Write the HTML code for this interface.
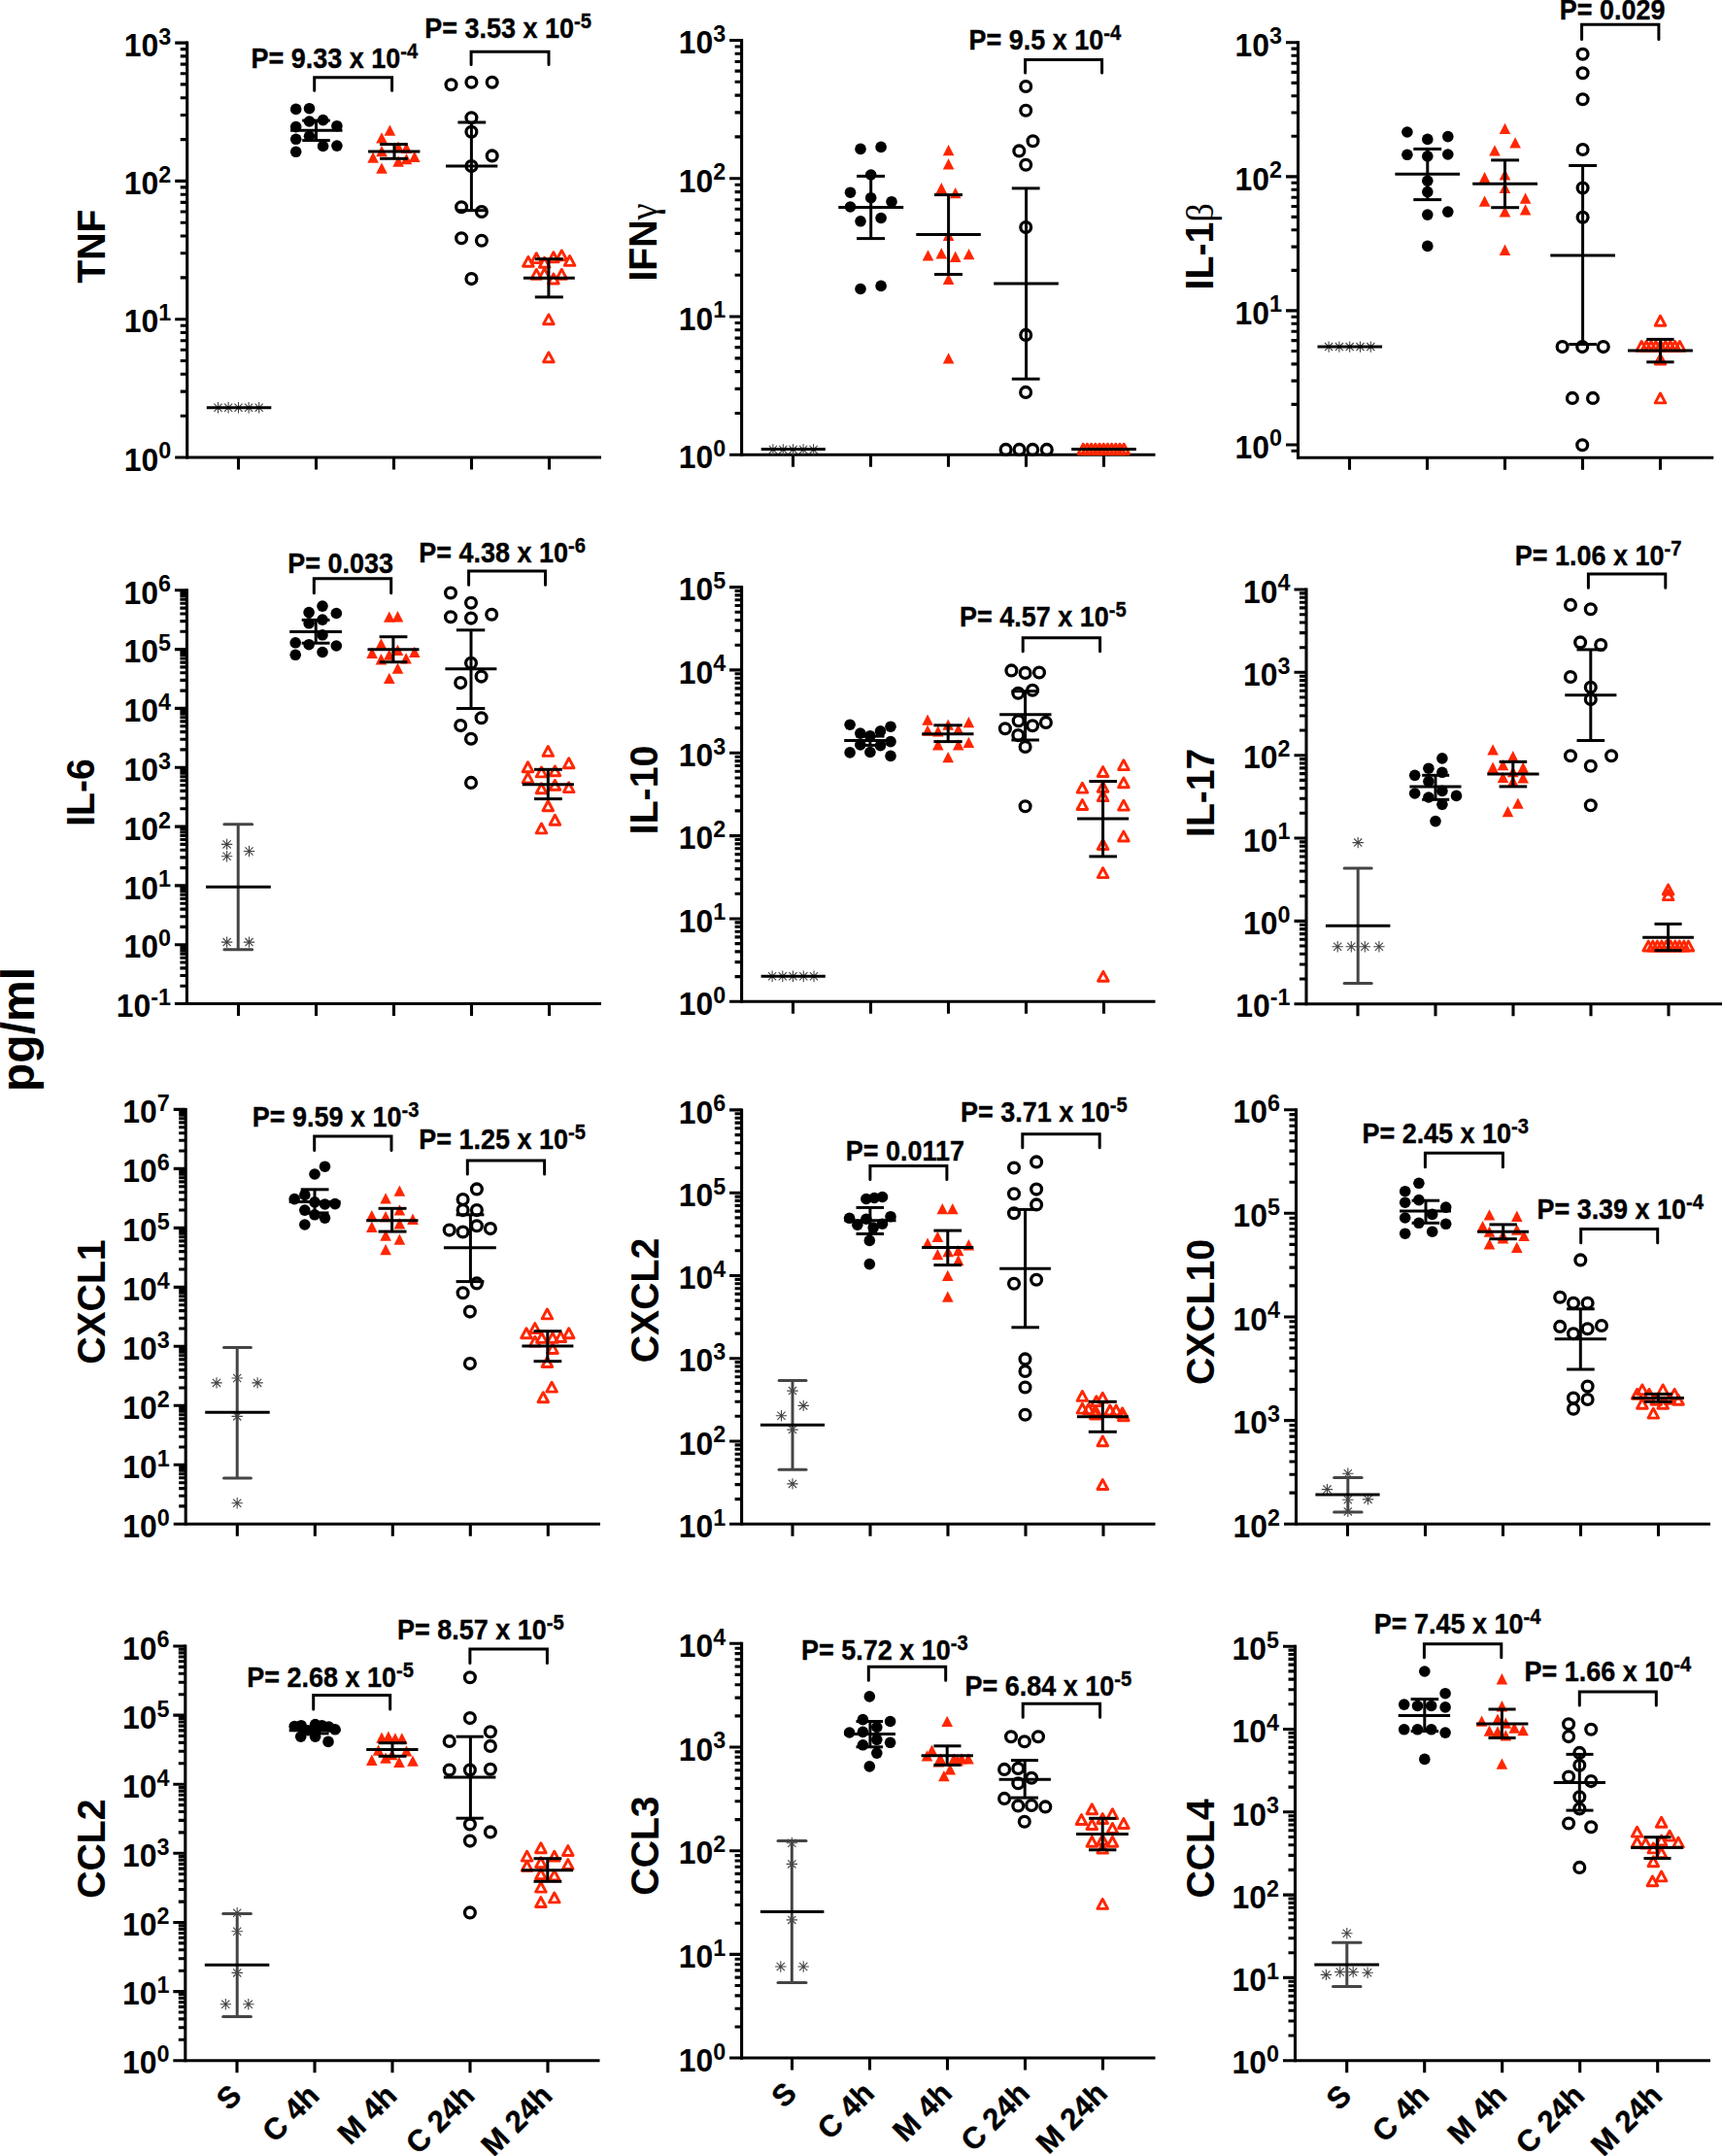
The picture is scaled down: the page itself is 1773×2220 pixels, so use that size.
<!DOCTYPE html>
<html><head><meta charset="utf-8"><title>Cytokines</title>
<style>
html,body{margin:0;padding:0;background:#fff}
svg{display:block}
text{font-family:"Liberation Sans",sans-serif;font-weight:bold;fill:#000}
.tk{font-size:33.6px}
.sp{font-size:24.6px}
.yl{font-size:40.6px}
.pg{font-size:48px}
.pv{font-size:28.7px;stroke:#000;stroke-width:0.35px}
.ps{font-size:21.5px}
.xl{font-size:31px;stroke:#000;stroke-width:0.4px}
.sym{font-family:"Liberation Serif","DejaVu Serif",serif;font-weight:normal;font-size:40px}
</style></head>
<body>
<svg width="1773" height="2220" viewBox="0 0 1773 2220">
<rect width="1773" height="2220" fill="#fff"/>
<g id="p-TNF">
<line x1="192.7" y1="42.6" x2="192.7" y2="472.6" stroke="#000" stroke-width="3.1"/>
<line x1="180.2" y1="471" x2="619" y2="471" stroke="#000" stroke-width="3.0"/>
<text transform="translate(176.3 57.8) scale(0.95 1)" text-anchor="end" class="tk">10<tspan class="sp" dy="-12.3">3</tspan></text>
<text transform="translate(176.3 200.1) scale(0.95 1)" text-anchor="end" class="tk">10<tspan class="sp" dy="-12.3">2</tspan></text>
<text transform="translate(176.3 342.4) scale(0.95 1)" text-anchor="end" class="tk">10<tspan class="sp" dy="-12.3">1</tspan></text>
<text transform="translate(176.3 484.7) scale(0.95 1)" text-anchor="end" class="tk">10<tspan class="sp" dy="-12.3">0</tspan></text>
<path d="M180.2 44.1H192.7M185.7 143.6H192.7M185.7 118.5H192.7M185.7 100.7H192.7M185.7 86.9H192.7M185.7 75.7H192.7M185.7 66.1H192.7M185.7 57.9H192.7M185.7 50.6H192.7M180.2 186.4H192.7M185.7 285.9H192.7M185.7 260.8H192.7M185.7 243H192.7M185.7 229.2H192.7M185.7 218H192.7M185.7 208.4H192.7M185.7 200.2H192.7M185.7 192.9H192.7M180.2 328.7H192.7M185.7 428.2H192.7M185.7 403.1H192.7M185.7 385.3H192.7M185.7 371.5H192.7M185.7 360.3H192.7M185.7 350.7H192.7M185.7 342.5H192.7M185.7 335.2H192.7" stroke="#000" stroke-width="3.1" fill="none"/>
<path d="M245.5 471V483.5M325.5 471V483.5M405.5 471V483.5M485.5 471V483.5M565.5 471V483.5" stroke="#000" stroke-width="3.1" fill="none"/>
<text transform="translate(107.8 253.7) rotate(-90) scale(0.965 1)" text-anchor="middle" class="yl">TNF</text>
<path d="M218.8 419.8H230.2M224.5 414.1V425.5M220.4 415.7L228.6 423.9M220.4 423.9L228.6 415.7" stroke="#454545" stroke-width="1.1" fill="none"/>
<path d="M229.4 419.8H240.8M235.1 414.1V425.5M231 415.7L239.2 423.9M231 423.9L239.2 415.7" stroke="#454545" stroke-width="1.1" fill="none"/>
<path d="M239.8 419.8H251.2M245.5 414.1V425.5M241.4 415.7L249.6 423.9M241.4 423.9L249.6 415.7" stroke="#454545" stroke-width="1.1" fill="none"/>
<path d="M250.4 419.8H261.8M256.1 414.1V425.5M252 415.7L260.2 423.9M252 423.9L260.2 415.7" stroke="#454545" stroke-width="1.1" fill="none"/>
<path d="M261 419.8H272.4M266.7 414.1V425.5M262.6 415.7L270.8 423.9M262.6 423.9L270.8 415.7" stroke="#454545" stroke-width="1.1" fill="none"/>
<line x1="212.8" y1="419.8" x2="279.3" y2="419.8" stroke="#000" stroke-width="3.0"/>
<circle cx="304.7" cy="112.4" r="5.8"/>
<circle cx="318.5" cy="111.7" r="5.8"/>
<circle cx="318.5" cy="125" r="5.8"/>
<circle cx="332.6" cy="123.6" r="5.8"/>
<circle cx="304.7" cy="130.6" r="5.8"/>
<circle cx="346.9" cy="129.7" r="5.8"/>
<circle cx="304.7" cy="143.3" r="5.8"/>
<circle cx="318.5" cy="140.3" r="5.8"/>
<circle cx="332.6" cy="150.5" r="5.8"/>
<circle cx="346.9" cy="150.1" r="5.8"/>
<circle cx="304.7" cy="156.3" r="5.8"/>
<line x1="325.5" y1="124.1" x2="325.5" y2="144.6" stroke="#000" stroke-width="3.0"/>
<line x1="311.2" y1="124.1" x2="339.8" y2="124.1" stroke="#000" stroke-width="3.0"/>
<line x1="311.2" y1="144.6" x2="339.8" y2="144.6" stroke="#000" stroke-width="3.0"/>
<line x1="299.1" y1="134.3" x2="352.5" y2="134.3" stroke="#000" stroke-width="3.0"/>
<polygon points="401.4,128.5 407.2,139.8 395.6,139.8" fill="#ff2600"/>
<polygon points="393,136.2 398.8,147.5 387.2,147.5" fill="#ff2600"/>
<polygon points="393,149.9 398.8,161.2 387.2,161.2" fill="#ff2600"/>
<polygon points="384.1,156.4 389.9,167.7 378.3,167.7" fill="#ff2600"/>
<polygon points="393,167.4 398.8,178.7 387.2,178.7" fill="#ff2600"/>
<polygon points="410.1,160.5 415.9,171.8 404.3,171.8" fill="#ff2600"/>
<polygon points="418.5,157.9 424.3,169.2 412.7,169.2" fill="#ff2600"/>
<polygon points="426.8,155.7 432.6,167 421,167" fill="#ff2600"/>
<polygon points="418.5,146.6 424.3,157.9 412.7,157.9" fill="#ff2600"/>
<polygon points="410.1,145.6 415.9,156.9 404.3,156.9" fill="#ff2600"/>
<line x1="406" y1="148.6" x2="406" y2="163.3" stroke="#000" stroke-width="3.0"/>
<line x1="391.1" y1="148.6" x2="419.8" y2="148.6" stroke="#000" stroke-width="3.0"/>
<line x1="391.1" y1="163.3" x2="419.8" y2="163.3" stroke="#000" stroke-width="3.0"/>
<line x1="379.1" y1="156.1" x2="432.4" y2="156.1" stroke="#000" stroke-width="3.0"/>
<circle cx="464.5" cy="87.3" r="5.4" fill="none" stroke="#000" stroke-width="3.3"/>
<circle cx="485.4" cy="84.7" r="5.4" fill="none" stroke="#000" stroke-width="3.3"/>
<circle cx="506.7" cy="84.7" r="5.4" fill="none" stroke="#000" stroke-width="3.3"/>
<circle cx="485.4" cy="121.3" r="5.4" fill="none" stroke="#000" stroke-width="3.3"/>
<circle cx="485.4" cy="135.8" r="5.4" fill="none" stroke="#000" stroke-width="3.3"/>
<circle cx="506.7" cy="160.4" r="5.4" fill="none" stroke="#000" stroke-width="3.3"/>
<circle cx="485.4" cy="171.1" r="5.4" fill="none" stroke="#000" stroke-width="3.3"/>
<circle cx="475.1" cy="213.3" r="5.4" fill="none" stroke="#000" stroke-width="3.3"/>
<circle cx="495.9" cy="218" r="5.4" fill="none" stroke="#000" stroke-width="3.3"/>
<circle cx="475.1" cy="245.3" r="5.4" fill="none" stroke="#000" stroke-width="3.3"/>
<circle cx="495.9" cy="247.7" r="5.4" fill="none" stroke="#000" stroke-width="3.3"/>
<circle cx="485.4" cy="287.1" r="5.4" fill="none" stroke="#000" stroke-width="3.3"/>
<line x1="485.4" y1="126" x2="485.4" y2="216.7" stroke="#000" stroke-width="3.0"/>
<line x1="471.4" y1="126" x2="500.2" y2="126" stroke="#000" stroke-width="3.0"/>
<line x1="471.4" y1="216.7" x2="500.2" y2="216.7" stroke="#000" stroke-width="3.0"/>
<line x1="459" y1="171.1" x2="512.3" y2="171.1" stroke="#000" stroke-width="3.0"/>
<polygon points="543.9,264.4 549.2,274.3 538.6,274.3" fill="none" stroke="#ff2600" stroke-width="2.9" stroke-linejoin="round"/>
<polygon points="552.3,260.7 557.6,270.6 547,270.6" fill="none" stroke="#ff2600" stroke-width="2.9" stroke-linejoin="round"/>
<polygon points="569.9,259.8 575.2,269.7 564.6,269.7" fill="none" stroke="#ff2600" stroke-width="2.9" stroke-linejoin="round"/>
<polygon points="578.3,257.9 583.6,267.8 573,267.8" fill="none" stroke="#ff2600" stroke-width="2.9" stroke-linejoin="round"/>
<polygon points="586.6,263.5 591.9,273.4 581.3,273.4" fill="none" stroke="#ff2600" stroke-width="2.9" stroke-linejoin="round"/>
<polygon points="560.6,265.3 565.9,275.2 555.3,275.2" fill="none" stroke="#ff2600" stroke-width="2.9" stroke-linejoin="round"/>
<polygon points="552.3,277.4 557.6,287.3 547,287.3" fill="none" stroke="#ff2600" stroke-width="2.9" stroke-linejoin="round"/>
<polygon points="560.6,276.5 565.9,286.4 555.3,286.4" fill="none" stroke="#ff2600" stroke-width="2.9" stroke-linejoin="round"/>
<polygon points="569.9,282.1 575.2,292 564.6,292" fill="none" stroke="#ff2600" stroke-width="2.9" stroke-linejoin="round"/>
<polygon points="578.3,277.4 583.6,287.3 573,287.3" fill="none" stroke="#ff2600" stroke-width="2.9" stroke-linejoin="round"/>
<polygon points="564.9,323.9 570.2,333.8 559.6,333.8" fill="none" stroke="#ff2600" stroke-width="2.9" stroke-linejoin="round"/>
<polygon points="564.9,362.9 570.2,372.8 559.6,372.8" fill="none" stroke="#ff2600" stroke-width="2.9" stroke-linejoin="round"/>
<line x1="564.9" y1="266.7" x2="564.9" y2="305.9" stroke="#000" stroke-width="3.0"/>
<line x1="550.8" y1="266.7" x2="579.8" y2="266.7" stroke="#000" stroke-width="3.0"/>
<line x1="550.8" y1="305.9" x2="579.8" y2="305.9" stroke="#000" stroke-width="3.0"/>
<line x1="538.9" y1="286.2" x2="591.8" y2="286.2" stroke="#000" stroke-width="3.0"/>
<path d="M323.7 93.3V79.8H403.6V93.3" stroke="#000" stroke-width="3" fill="none" stroke-linecap="round" stroke-linejoin="miter"/>
<path d="M485.1 66.5V53.2H565V66.5" stroke="#000" stroke-width="3" fill="none" stroke-linecap="round" stroke-linejoin="miter"/>
<text transform="translate(258.5 70.2) scale(0.94 1)" class="pv">P= 9.33 x 10<tspan class="ps" dy="-10">-4</tspan></text>
<text transform="translate(437.2 38.8) scale(0.94 1)" class="pv">P= 3.53 x 10<tspan class="ps" dy="-10">-5</tspan></text>
</g>
<g id="p-IFN">
<line x1="763.6" y1="40" x2="763.6" y2="469.9" stroke="#000" stroke-width="3.1"/>
<line x1="751.1" y1="468.3" x2="1189.5" y2="468.3" stroke="#000" stroke-width="3.0"/>
<text transform="translate(747.2 55.2) scale(0.95 1)" text-anchor="end" class="tk">10<tspan class="sp" dy="-12.3">3</tspan></text>
<text transform="translate(747.2 197.5) scale(0.95 1)" text-anchor="end" class="tk">10<tspan class="sp" dy="-12.3">2</tspan></text>
<text transform="translate(747.2 339.7) scale(0.95 1)" text-anchor="end" class="tk">10<tspan class="sp" dy="-12.3">1</tspan></text>
<text transform="translate(747.2 482) scale(0.95 1)" text-anchor="end" class="tk">10<tspan class="sp" dy="-12.3">0</tspan></text>
<path d="M751.1 41.5H763.6M756.6 140.9H763.6M756.6 115.9H763.6M756.6 98.1H763.6M756.6 84.3H763.6M756.6 73.1H763.6M756.6 63.5H763.6M756.6 55.3H763.6M756.6 48H763.6M751.1 183.8H763.6M756.6 283.2H763.6M756.6 258.2H763.6M756.6 240.4H763.6M756.6 226.6H763.6M756.6 215.3H763.6M756.6 205.8H763.6M756.6 197.6H763.6M756.6 190.3H763.6M751.1 326H763.6M756.6 425.5H763.6M756.6 400.4H763.6M756.6 382.6H763.6M756.6 368.9H763.6M756.6 357.6H763.6M756.6 348.1H763.6M756.6 339.8H763.6M756.6 332.5H763.6" stroke="#000" stroke-width="3.1" fill="none"/>
<path d="M816.5 468.3V480.8M896.5 468.3V480.8M976.5 468.3V480.8M1056.5 468.3V480.8M1136.5 468.3V480.8" stroke="#000" stroke-width="3.1" fill="none"/>
<text transform="translate(675.9 289.6) rotate(-90) scale(0.965 1)" text-anchor="start" class="yl">IFN<tspan class="sym">γ</tspan></text>
<path d="M790.2 462.9H801.6M795.9 457.2V468.6M791.8 458.8L800 467M791.8 467L800 458.8" stroke="#454545" stroke-width="1.1" fill="none"/>
<path d="M800.6 462.9H812M806.3 457.2V468.6M802.2 458.8L810.4 467M802.2 467L810.4 458.8" stroke="#454545" stroke-width="1.1" fill="none"/>
<path d="M810.9 462.9H822.3M816.6 457.2V468.6M812.5 458.8L820.7 467M812.5 467L820.7 458.8" stroke="#454545" stroke-width="1.1" fill="none"/>
<path d="M821.4 462.9H832.8M827.1 457.2V468.6M823 458.8L831.2 467M823 467L831.2 458.8" stroke="#454545" stroke-width="1.1" fill="none"/>
<path d="M831.9 462.9H843.3M837.6 457.2V468.6M833.5 458.8L841.7 467M833.5 467L841.7 458.8" stroke="#454545" stroke-width="1.1" fill="none"/>
<line x1="783.7" y1="462.4" x2="849.8" y2="462.4" stroke="#000" stroke-width="3.0"/>
<circle cx="886" cy="153.4" r="5.8"/>
<circle cx="907.1" cy="151.4" r="5.8"/>
<circle cx="896.7" cy="180" r="5.8"/>
<circle cx="875.5" cy="198.2" r="5.8"/>
<circle cx="896.7" cy="203.7" r="5.8"/>
<circle cx="918" cy="207.7" r="5.8"/>
<circle cx="875.5" cy="213" r="5.8"/>
<circle cx="886" cy="227.8" r="5.8"/>
<circle cx="907.1" cy="224.5" r="5.8"/>
<circle cx="886" cy="297.5" r="5.8"/>
<circle cx="907.1" cy="294.4" r="5.8"/>
<line x1="896.7" y1="181.4" x2="896.7" y2="245.6" stroke="#000" stroke-width="3.0"/>
<line x1="882.1" y1="181.4" x2="911.1" y2="181.4" stroke="#000" stroke-width="3.0"/>
<line x1="882.1" y1="245.6" x2="911.1" y2="245.6" stroke="#000" stroke-width="3.0"/>
<line x1="863.3" y1="213.6" x2="930.2" y2="213.6" stroke="#000" stroke-width="3.0"/>
<polygon points="976.6,149 982.4,160.3 970.8,160.3" fill="#ff2600"/>
<polygon points="976.6,163.2 982.4,174.5 970.8,174.5" fill="#ff2600"/>
<polygon points="969.3,188.1 975.1,199.4 963.5,199.4" fill="#ff2600"/>
<polygon points="983.7,193 989.5,204.3 977.9,204.3" fill="#ff2600"/>
<polygon points="976.6,236.8 982.4,248.1 970.8,248.1" fill="#ff2600"/>
<polygon points="955.5,257.2 961.3,268.5 949.7,268.5" fill="#ff2600"/>
<polygon points="969.3,255.2 975.1,266.5 963.5,266.5" fill="#ff2600"/>
<polygon points="983.7,258.6 989.5,269.9 977.9,269.9" fill="#ff2600"/>
<polygon points="997.6,256 1003.4,267.3 991.8,267.3" fill="#ff2600"/>
<polygon points="976.6,281.7 982.4,293 970.8,293" fill="#ff2600"/>
<polygon points="976.6,363.2 982.4,374.5 970.8,374.5" fill="#ff2600"/>
<line x1="976.6" y1="200.6" x2="976.6" y2="282.5" stroke="#000" stroke-width="3.0"/>
<line x1="962" y1="200.6" x2="991" y2="200.6" stroke="#000" stroke-width="3.0"/>
<line x1="962" y1="282.5" x2="991" y2="282.5" stroke="#000" stroke-width="3.0"/>
<line x1="943.3" y1="241.6" x2="1009.8" y2="241.6" stroke="#000" stroke-width="3.0"/>
<circle cx="1056.2" cy="89" r="5.4" fill="none" stroke="#000" stroke-width="3.3"/>
<circle cx="1056.2" cy="113.7" r="5.4" fill="none" stroke="#000" stroke-width="3.3"/>
<circle cx="1063.5" cy="145.3" r="5.4" fill="none" stroke="#000" stroke-width="3.3"/>
<circle cx="1049.3" cy="155.4" r="5.4" fill="none" stroke="#000" stroke-width="3.3"/>
<circle cx="1056.2" cy="169.8" r="5.4" fill="none" stroke="#000" stroke-width="3.3"/>
<circle cx="1056.2" cy="234.1" r="5.4" fill="none" stroke="#000" stroke-width="3.3"/>
<circle cx="1056.2" cy="344.9" r="5.4" fill="none" stroke="#000" stroke-width="3.3"/>
<circle cx="1056.1" cy="403.9" r="5.4" fill="none" stroke="#000" stroke-width="3.3"/>
<circle cx="1035.6" cy="462.9" r="5.4" fill="none" stroke="#000" stroke-width="3.3"/>
<circle cx="1049.5" cy="462.9" r="5.4" fill="none" stroke="#000" stroke-width="3.3"/>
<circle cx="1063.2" cy="462.9" r="5.4" fill="none" stroke="#000" stroke-width="3.3"/>
<circle cx="1077.8" cy="462.9" r="5.4" fill="none" stroke="#000" stroke-width="3.3"/>
<line x1="1056.6" y1="193.9" x2="1056.6" y2="390.2" stroke="#000" stroke-width="3.0"/>
<line x1="1041.8" y1="193.9" x2="1070.6" y2="193.9" stroke="#000" stroke-width="3.0"/>
<line x1="1041.8" y1="390.2" x2="1070.6" y2="390.2" stroke="#000" stroke-width="3.0"/>
<line x1="1023.2" y1="292" x2="1089.8" y2="292" stroke="#000" stroke-width="3.0"/>
<polygon points="1115.3,457.3 1120.6,467.2 1110,467.2" fill="none" stroke="#ff2600" stroke-width="2.9" stroke-linejoin="round"/>
<polygon points="1119.5,457.3 1124.8,467.2 1114.2,467.2" fill="none" stroke="#ff2600" stroke-width="2.9" stroke-linejoin="round"/>
<polygon points="1123.7,457.3 1129,467.2 1118.4,467.2" fill="none" stroke="#ff2600" stroke-width="2.9" stroke-linejoin="round"/>
<polygon points="1127.9,457.3 1133.2,467.2 1122.6,467.2" fill="none" stroke="#ff2600" stroke-width="2.9" stroke-linejoin="round"/>
<polygon points="1132.1,457.3 1137.4,467.2 1126.8,467.2" fill="none" stroke="#ff2600" stroke-width="2.9" stroke-linejoin="round"/>
<polygon points="1136.2,457.3 1141.5,467.2 1131,467.2" fill="none" stroke="#ff2600" stroke-width="2.9" stroke-linejoin="round"/>
<polygon points="1140.4,457.3 1145.7,467.2 1135.1,467.2" fill="none" stroke="#ff2600" stroke-width="2.9" stroke-linejoin="round"/>
<polygon points="1144.6,457.3 1149.9,467.2 1139.3,467.2" fill="none" stroke="#ff2600" stroke-width="2.9" stroke-linejoin="round"/>
<polygon points="1148.8,457.3 1154.1,467.2 1143.5,467.2" fill="none" stroke="#ff2600" stroke-width="2.9" stroke-linejoin="round"/>
<polygon points="1153,457.3 1158.3,467.2 1147.7,467.2" fill="none" stroke="#ff2600" stroke-width="2.9" stroke-linejoin="round"/>
<polygon points="1157.2,457.3 1162.5,467.2 1151.9,467.2" fill="none" stroke="#ff2600" stroke-width="2.9" stroke-linejoin="round"/>
<line x1="1103.2" y1="462.4" x2="1169.8" y2="462.4" stroke="#000" stroke-width="3.0"/>
<path d="M1055.6 75V61.4H1134.6V75" stroke="#000" stroke-width="3" fill="none" stroke-linecap="round" stroke-linejoin="miter"/>
<text transform="translate(997.5 51) scale(0.94 1)" class="pv">P= 9.5 x 10<tspan class="ps" dy="-10">-4</tspan></text>
</g>
<g id="p-IL1b">
<line x1="1336.5" y1="42.2" x2="1336.5" y2="472.8" stroke="#000" stroke-width="3.1"/>
<line x1="1335" y1="471.2" x2="1764.3" y2="471.2" stroke="#000" stroke-width="3.0"/>
<text transform="translate(1320.1 57.5) scale(0.95 1)" text-anchor="end" class="tk">10<tspan class="sp" dy="-12.3">3</tspan></text>
<text transform="translate(1320.1 195.6) scale(0.95 1)" text-anchor="end" class="tk">10<tspan class="sp" dy="-12.3">2</tspan></text>
<text transform="translate(1320.1 333.6) scale(0.95 1)" text-anchor="end" class="tk">10<tspan class="sp" dy="-12.3">1</tspan></text>
<text transform="translate(1320.1 471.7) scale(0.95 1)" text-anchor="end" class="tk">10<tspan class="sp" dy="-12.3">0</tspan></text>
<path d="M1324 43.8H1336.5M1329.5 140.3H1336.5M1329.5 116H1336.5M1329.5 98.7H1336.5M1329.5 85.4H1336.5M1329.5 74.4H1336.5M1329.5 65.2H1336.5M1329.5 57.2H1336.5M1329.5 50.1H1336.5M1324 181.9H1336.5M1329.5 278.4H1336.5M1329.5 254.1H1336.5M1329.5 236.8H1336.5M1329.5 223.4H1336.5M1329.5 212.5H1336.5M1329.5 203.3H1336.5M1329.5 195.2H1336.5M1329.5 188.2H1336.5M1324 319.9H1336.5M1329.5 416.4H1336.5M1329.5 392.1H1336.5M1329.5 374.9H1336.5M1329.5 361.5H1336.5M1329.5 350.6H1336.5M1329.5 341.3H1336.5M1329.5 333.3H1336.5M1329.5 326.3H1336.5M1324 458H1336.5M1329.5 464.3H1336.5" stroke="#000" stroke-width="3.1" fill="none"/>
<path d="M1389.5 471.2V483.7M1469.5 471.2V483.7M1549.5 471.2V483.7M1629.5 471.2V483.7M1709.5 471.2V483.7" stroke="#000" stroke-width="3.1" fill="none"/>
<text transform="translate(1249 298.4) rotate(-90) scale(0.965 1)" text-anchor="start" class="yl">IL-1<tspan class="sym">β</tspan></text>
<path d="M1362.4 357.1H1373.8M1368.1 351.4V362.8M1364 353L1372.2 361.2M1364 361.2L1372.2 353" stroke="#454545" stroke-width="1.1" fill="none"/>
<path d="M1373.2 357.1H1384.6M1378.9 351.4V362.8M1374.8 353L1383 361.2M1374.8 361.2L1383 353" stroke="#454545" stroke-width="1.1" fill="none"/>
<path d="M1384 357.1H1395.4M1389.7 351.4V362.8M1385.6 353L1393.8 361.2M1385.6 361.2L1393.8 353" stroke="#454545" stroke-width="1.1" fill="none"/>
<path d="M1394.8 357.1H1406.2M1400.5 351.4V362.8M1396.4 353L1404.6 361.2M1396.4 361.2L1404.6 353" stroke="#454545" stroke-width="1.1" fill="none"/>
<path d="M1405.6 357.1H1417M1411.3 351.4V362.8M1407.2 353L1415.4 361.2M1407.2 361.2L1415.4 353" stroke="#454545" stroke-width="1.1" fill="none"/>
<line x1="1356.5" y1="357.1" x2="1423.1" y2="357.1" stroke="#000" stroke-width="3.0"/>
<circle cx="1448.9" cy="136" r="5.8"/>
<circle cx="1469.8" cy="143.4" r="5.8"/>
<circle cx="1490.8" cy="140.6" r="5.8"/>
<circle cx="1448.9" cy="159.3" r="5.8"/>
<circle cx="1469.8" cy="160.9" r="5.8"/>
<circle cx="1490.8" cy="159" r="5.8"/>
<circle cx="1469.8" cy="186.2" r="5.8"/>
<circle cx="1469.8" cy="197.6" r="5.8"/>
<circle cx="1469.8" cy="221.1" r="5.8"/>
<circle cx="1490.8" cy="218.1" r="5.8"/>
<circle cx="1469.8" cy="253.4" r="5.8"/>
<line x1="1469.8" y1="153.4" x2="1469.8" y2="205.6" stroke="#000" stroke-width="3.0"/>
<line x1="1455.3" y1="153.4" x2="1484.2" y2="153.4" stroke="#000" stroke-width="3.0"/>
<line x1="1455.3" y1="205.6" x2="1484.2" y2="205.6" stroke="#000" stroke-width="3.0"/>
<line x1="1436.4" y1="179.3" x2="1503.1" y2="179.3" stroke="#000" stroke-width="3.0"/>
<polygon points="1549.5,126.7 1555.3,138 1543.7,138" fill="#ff2600"/>
<polygon points="1560.1,141.2 1565.9,152.5 1554.3,152.5" fill="#ff2600"/>
<polygon points="1539,149.2 1544.8,160.5 1533.2,160.5" fill="#ff2600"/>
<polygon points="1528.6,177.1 1534.4,188.4 1522.8,188.4" fill="#ff2600"/>
<polygon points="1549.5,174.1 1555.3,185.4 1543.7,185.4" fill="#ff2600"/>
<polygon points="1549.5,187.8 1555.3,199.1 1543.7,199.1" fill="#ff2600"/>
<polygon points="1528.6,201.4 1534.4,212.7 1522.8,212.7" fill="#ff2600"/>
<polygon points="1570.6,198.4 1576.4,209.7 1564.8,209.7" fill="#ff2600"/>
<polygon points="1570.6,210.3 1576.4,221.6 1564.8,221.6" fill="#ff2600"/>
<polygon points="1549.5,212.3 1555.3,223.6 1543.7,223.6" fill="#ff2600"/>
<polygon points="1549.5,251.6 1555.3,262.9 1543.7,262.9" fill="#ff2600"/>
<line x1="1549.5" y1="164.9" x2="1549.5" y2="213.7" stroke="#000" stroke-width="3.0"/>
<line x1="1535.2" y1="164.9" x2="1564.1" y2="164.9" stroke="#000" stroke-width="3.0"/>
<line x1="1535.2" y1="213.7" x2="1564.1" y2="213.7" stroke="#000" stroke-width="3.0"/>
<line x1="1516.2" y1="189.2" x2="1583" y2="189.2" stroke="#000" stroke-width="3.0"/>
<circle cx="1629.6" cy="55.8" r="5.4" fill="none" stroke="#000" stroke-width="3.3"/>
<circle cx="1629.6" cy="75.3" r="5.4" fill="none" stroke="#000" stroke-width="3.3"/>
<circle cx="1629.6" cy="102.2" r="5.4" fill="none" stroke="#000" stroke-width="3.3"/>
<circle cx="1629.6" cy="154" r="5.4" fill="none" stroke="#000" stroke-width="3.3"/>
<circle cx="1629.6" cy="193.6" r="5.4" fill="none" stroke="#000" stroke-width="3.3"/>
<circle cx="1629.6" cy="223.7" r="5.4" fill="none" stroke="#000" stroke-width="3.3"/>
<circle cx="1608.6" cy="357.1" r="5.4" fill="none" stroke="#000" stroke-width="3.3"/>
<circle cx="1629.2" cy="357.1" r="5.4" fill="none" stroke="#000" stroke-width="3.3"/>
<circle cx="1650.8" cy="357.1" r="5.4" fill="none" stroke="#000" stroke-width="3.3"/>
<circle cx="1618.9" cy="409.9" r="5.4" fill="none" stroke="#000" stroke-width="3.3"/>
<circle cx="1640" cy="409.9" r="5.4" fill="none" stroke="#000" stroke-width="3.3"/>
<circle cx="1629.2" cy="458.2" r="5.4" fill="none" stroke="#000" stroke-width="3.3"/>
<line x1="1629.6" y1="170.5" x2="1629.6" y2="354.5" stroke="#000" stroke-width="3.0"/>
<line x1="1615.2" y1="170.5" x2="1644.1" y2="170.5" stroke="#000" stroke-width="3.0"/>
<line x1="1615.2" y1="354.5" x2="1644.1" y2="354.5" stroke="#000" stroke-width="3.0"/>
<line x1="1596.3" y1="262.9" x2="1663" y2="262.9" stroke="#000" stroke-width="3.0"/>
<polygon points="1709.5,325.3 1714.8,335.2 1704.2,335.2" fill="none" stroke="#ff2600" stroke-width="2.9" stroke-linejoin="round"/>
<polygon points="1690.2,351.5 1695.5,361.4 1684.9,361.4" fill="none" stroke="#ff2600" stroke-width="2.9" stroke-linejoin="round"/>
<polygon points="1695.1,351.5 1700.4,361.4 1689.8,361.4" fill="none" stroke="#ff2600" stroke-width="2.9" stroke-linejoin="round"/>
<polygon points="1700,351.5 1705.3,361.4 1694.7,361.4" fill="none" stroke="#ff2600" stroke-width="2.9" stroke-linejoin="round"/>
<polygon points="1704.9,351.5 1710.2,361.4 1699.6,361.4" fill="none" stroke="#ff2600" stroke-width="2.9" stroke-linejoin="round"/>
<polygon points="1709.8,351.5 1715.1,361.4 1704.5,361.4" fill="none" stroke="#ff2600" stroke-width="2.9" stroke-linejoin="round"/>
<polygon points="1714.8,351.5 1720.1,361.4 1709.5,361.4" fill="none" stroke="#ff2600" stroke-width="2.9" stroke-linejoin="round"/>
<polygon points="1719.7,351.5 1725,361.4 1714.4,361.4" fill="none" stroke="#ff2600" stroke-width="2.9" stroke-linejoin="round"/>
<polygon points="1724.6,351.5 1729.9,361.4 1719.3,361.4" fill="none" stroke="#ff2600" stroke-width="2.9" stroke-linejoin="round"/>
<polygon points="1729.5,351.5 1734.8,361.4 1724.2,361.4" fill="none" stroke="#ff2600" stroke-width="2.9" stroke-linejoin="round"/>
<polygon points="1709.5,365.1 1714.8,375 1704.2,375" fill="none" stroke="#ff2600" stroke-width="2.9" stroke-linejoin="round"/>
<polygon points="1709.5,405 1714.8,414.9 1704.2,414.9" fill="none" stroke="#ff2600" stroke-width="2.9" stroke-linejoin="round"/>
<line x1="1709.5" y1="349.4" x2="1709.5" y2="372.8" stroke="#000" stroke-width="3.0"/>
<line x1="1695.3" y1="349.4" x2="1723.6" y2="349.4" stroke="#000" stroke-width="3.0"/>
<line x1="1695.3" y1="372.8" x2="1723.6" y2="372.8" stroke="#000" stroke-width="3.0"/>
<line x1="1676" y1="361" x2="1742.9" y2="361" stroke="#000" stroke-width="3.0"/>
<path d="M1628.6 40.4V25.3H1707.9V40.4" stroke="#000" stroke-width="3" fill="none" stroke-linecap="round" stroke-linejoin="miter"/>
<text transform="translate(1605.8 20.4) scale(0.94 1)" class="pv">P= 0.029</text>
</g>
<g id="p-IL-6">
<line x1="192.4" y1="606.2" x2="192.4" y2="1035" stroke="#000" stroke-width="3.1"/>
<line x1="179.9" y1="1033.5" x2="619" y2="1033.5" stroke="#000" stroke-width="3.0"/>
<text transform="translate(176 621.5) scale(0.95 1)" text-anchor="end" class="tk">10<tspan class="sp" dy="-12.3">6</tspan></text>
<text transform="translate(176 682.3) scale(0.95 1)" text-anchor="end" class="tk">10<tspan class="sp" dy="-12.3">5</tspan></text>
<text transform="translate(176 743.1) scale(0.95 1)" text-anchor="end" class="tk">10<tspan class="sp" dy="-12.3">4</tspan></text>
<text transform="translate(176 803.9) scale(0.95 1)" text-anchor="end" class="tk">10<tspan class="sp" dy="-12.3">3</tspan></text>
<text transform="translate(176 864.8) scale(0.95 1)" text-anchor="end" class="tk">10<tspan class="sp" dy="-12.3">2</tspan></text>
<text transform="translate(176 925.6) scale(0.95 1)" text-anchor="end" class="tk">10<tspan class="sp" dy="-12.3">1</tspan></text>
<text transform="translate(176 986.4) scale(0.95 1)" text-anchor="end" class="tk">10<tspan class="sp" dy="-12.3">0</tspan></text>
<text transform="translate(176 1047.2) scale(0.95 1)" text-anchor="end" class="tk">10<tspan class="sp" dy="-12.3">-1</tspan></text>
<path d="M179.9 607.8H192.4M185.4 650.3H192.4M185.4 639.6H192.4M185.4 632H192.4M185.4 626.1H192.4M185.4 621.3H192.4M185.4 617.2H192.4M185.4 613.7H192.4M185.4 610.6H192.4M179.9 668.6H192.4M185.4 711.1H192.4M185.4 700.4H192.4M185.4 692.8H192.4M185.4 686.9H192.4M185.4 682.1H192.4M185.4 678H192.4M185.4 674.5H192.4M185.4 671.4H192.4M179.9 729.4H192.4M185.4 771.9H192.4M185.4 761.2H192.4M185.4 753.6H192.4M185.4 747.7H192.4M185.4 742.9H192.4M185.4 738.8H192.4M185.4 735.3H192.4M185.4 732.2H192.4M179.9 790.2H192.4M185.4 832.8H192.4M185.4 822H192.4M185.4 814.4H192.4M185.4 808.5H192.4M185.4 803.7H192.4M185.4 799.7H192.4M185.4 796.1H192.4M185.4 793H192.4M179.9 851.1H192.4M185.4 893.6H192.4M185.4 882.9H192.4M185.4 875.3H192.4M185.4 869.4H192.4M185.4 864.5H192.4M185.4 860.5H192.4M185.4 857H192.4M185.4 853.8H192.4M179.9 911.9H192.4M185.4 954.4H192.4M185.4 943.7H192.4M185.4 936.1H192.4M185.4 930.2H192.4M185.4 925.4H192.4M185.4 921.3H192.4M185.4 917.8H192.4M185.4 914.7H192.4M179.9 972.7H192.4M185.4 1015.2H192.4M185.4 1004.5H192.4M185.4 996.9H192.4M185.4 991H192.4M185.4 986.2H192.4M185.4 982.1H192.4M185.4 978.6H192.4M185.4 975.5H192.4" stroke="#000" stroke-width="3.1" fill="none"/>
<path d="M245.5 1033.5V1046M325.5 1033.5V1046M405.5 1033.5V1046M485.5 1033.5V1046M565.5 1033.5V1046" stroke="#000" stroke-width="3.1" fill="none"/>
<text transform="translate(97.4 816) rotate(-90) scale(0.965 1)" text-anchor="middle" class="yl">IL-6</text>
<path d="M227.9 869.4H239.3M233.6 863.7V875.1M229.5 865.3L237.7 873.5M229.5 873.5L237.7 865.3" stroke="#454545" stroke-width="1.1" fill="none"/>
<path d="M227.9 881.7H239.3M233.6 876V887.4M229.5 877.6L237.7 885.8M229.5 885.8L237.7 877.6" stroke="#454545" stroke-width="1.1" fill="none"/>
<path d="M250.8 876.5H262.2M256.5 870.8V882.2M252.4 872.4L260.6 880.6M252.4 880.6L260.6 872.4" stroke="#454545" stroke-width="1.1" fill="none"/>
<path d="M227.9 970.1H239.3M233.6 964.4V975.8M229.5 966L237.7 974.2M229.5 974.2L237.7 966" stroke="#454545" stroke-width="1.1" fill="none"/>
<path d="M250.8 970.1H262.2M256.5 964.4V975.8M252.4 966L260.6 974.2M252.4 974.2L260.6 966" stroke="#454545" stroke-width="1.1" fill="none"/>
<line x1="245.2" y1="848.7" x2="245.2" y2="977.8" stroke="#454545" stroke-width="3.0"/>
<line x1="230.9" y1="848.7" x2="259.6" y2="848.7" stroke="#454545" stroke-width="3.0" stroke-linecap="round"/>
<line x1="230.9" y1="977.8" x2="259.6" y2="977.8" stroke="#454545" stroke-width="3.0" stroke-linecap="round"/>
<line x1="212" y1="913.3" x2="278.8" y2="913.3" stroke="#000" stroke-width="3.0"/>
<circle cx="332" cy="624.1" r="5.8"/>
<circle cx="318.1" cy="630.6" r="5.8"/>
<circle cx="346.3" cy="631.5" r="5.8"/>
<circle cx="332" cy="638.1" r="5.8"/>
<circle cx="318.1" cy="641.8" r="5.8"/>
<circle cx="332" cy="653.8" r="5.8"/>
<circle cx="304.2" cy="661.8" r="5.8"/>
<circle cx="318.1" cy="663.7" r="5.8"/>
<circle cx="346.3" cy="665" r="5.8"/>
<circle cx="332" cy="671.5" r="5.8"/>
<circle cx="304.2" cy="674.3" r="5.8"/>
<line x1="325.2" y1="638.4" x2="325.2" y2="662.2" stroke="#000" stroke-width="3.0"/>
<line x1="310.7" y1="638.4" x2="339.5" y2="638.4" stroke="#000" stroke-width="3.0"/>
<line x1="310.7" y1="662.2" x2="339.5" y2="662.2" stroke="#000" stroke-width="3.0"/>
<line x1="298.2" y1="650.5" x2="351.9" y2="650.5" stroke="#000" stroke-width="3.0"/>
<polygon points="400.8,629.5 406.6,640.8 395,640.8" fill="#ff2600"/>
<polygon points="409.5,629.1 415.3,640.4 403.7,640.4" fill="#ff2600"/>
<polygon points="392.4,657.3 398.2,668.6 386.6,668.6" fill="#ff2600"/>
<polygon points="409.5,663.8 415.3,675.1 403.7,675.1" fill="#ff2600"/>
<polygon points="383.1,666.6 388.9,677.9 377.3,677.9" fill="#ff2600"/>
<polygon points="426.8,665.7 432.6,677 421,677" fill="#ff2600"/>
<polygon points="392.4,673.1 398.2,684.4 386.6,684.4" fill="#ff2600"/>
<polygon points="400.8,668.5 406.6,679.8 395,679.8" fill="#ff2600"/>
<polygon points="418.1,672.2 423.9,683.5 412.3,683.5" fill="#ff2600"/>
<polygon points="409.5,682.4 415.3,693.7 403.7,693.7" fill="#ff2600"/>
<polygon points="400.8,692.7 406.6,704 395,704" fill="#ff2600"/>
<line x1="404.9" y1="655.7" x2="404.9" y2="681.7" stroke="#000" stroke-width="3.0"/>
<line x1="390.6" y1="655.7" x2="419.4" y2="655.7" stroke="#000" stroke-width="3.0"/>
<line x1="390.6" y1="681.7" x2="419.4" y2="681.7" stroke="#000" stroke-width="3.0"/>
<line x1="378.5" y1="668.7" x2="431.5" y2="668.7" stroke="#000" stroke-width="3.0"/>
<circle cx="464" cy="610.5" r="5.4" fill="none" stroke="#000" stroke-width="3.3"/>
<circle cx="485" cy="620.8" r="5.4" fill="none" stroke="#000" stroke-width="3.3"/>
<circle cx="464" cy="635.3" r="5.4" fill="none" stroke="#000" stroke-width="3.3"/>
<circle cx="485" cy="636.6" r="5.4" fill="none" stroke="#000" stroke-width="3.3"/>
<circle cx="506.2" cy="632.8" r="5.4" fill="none" stroke="#000" stroke-width="3.3"/>
<circle cx="485" cy="682.7" r="5.4" fill="none" stroke="#000" stroke-width="3.3"/>
<circle cx="495.6" cy="696.6" r="5.4" fill="none" stroke="#000" stroke-width="3.3"/>
<circle cx="474.2" cy="703.1" r="5.4" fill="none" stroke="#000" stroke-width="3.3"/>
<circle cx="495.6" cy="739.3" r="5.4" fill="none" stroke="#000" stroke-width="3.3"/>
<circle cx="474.2" cy="747.1" r="5.4" fill="none" stroke="#000" stroke-width="3.3"/>
<circle cx="485" cy="760.7" r="5.4" fill="none" stroke="#000" stroke-width="3.3"/>
<circle cx="485" cy="805.9" r="5.4" fill="none" stroke="#000" stroke-width="3.3"/>
<line x1="485" y1="648.8" x2="485" y2="729.5" stroke="#000" stroke-width="3.0"/>
<line x1="469.9" y1="648.8" x2="499.3" y2="648.8" stroke="#000" stroke-width="3.0"/>
<line x1="469.9" y1="729.5" x2="499.3" y2="729.5" stroke="#000" stroke-width="3.0"/>
<line x1="458.4" y1="688.8" x2="511.4" y2="688.8" stroke="#000" stroke-width="3.0"/>
<polygon points="564.3,768.5 569.6,778.4 559,778.4" fill="none" stroke="#ff2600" stroke-width="2.9" stroke-linejoin="round"/>
<polygon points="585.7,780.8 591,790.7 580.4,790.7" fill="none" stroke="#ff2600" stroke-width="2.9" stroke-linejoin="round"/>
<polygon points="543.5,784.8 548.8,794.7 538.2,794.7" fill="none" stroke="#ff2600" stroke-width="2.9" stroke-linejoin="round"/>
<polygon points="557.5,790 562.8,799.9 552.2,799.9" fill="none" stroke="#ff2600" stroke-width="2.9" stroke-linejoin="round"/>
<polygon points="571.4,788.9 576.7,798.8 566.1,798.8" fill="none" stroke="#ff2600" stroke-width="2.9" stroke-linejoin="round"/>
<polygon points="543.5,796 548.8,805.9 538.2,805.9" fill="none" stroke="#ff2600" stroke-width="2.9" stroke-linejoin="round"/>
<polygon points="571.4,803.4 576.7,813.3 566.1,813.3" fill="none" stroke="#ff2600" stroke-width="2.9" stroke-linejoin="round"/>
<polygon points="557.5,806.8 562.8,816.7 552.2,816.7" fill="none" stroke="#ff2600" stroke-width="2.9" stroke-linejoin="round"/>
<polygon points="585.7,805.7 591,815.6 580.4,815.6" fill="none" stroke="#ff2600" stroke-width="2.9" stroke-linejoin="round"/>
<polygon points="564.3,824.8 569.6,834.7 559,834.7" fill="none" stroke="#ff2600" stroke-width="2.9" stroke-linejoin="round"/>
<polygon points="571.4,839.3 576.7,849.2 566.1,849.2" fill="none" stroke="#ff2600" stroke-width="2.9" stroke-linejoin="round"/>
<polygon points="557.5,848 562.8,857.9 552.2,857.9" fill="none" stroke="#ff2600" stroke-width="2.9" stroke-linejoin="round"/>
<line x1="564.3" y1="792.3" x2="564.3" y2="822.6" stroke="#000" stroke-width="3.0"/>
<line x1="550" y1="792.3" x2="578.8" y2="792.3" stroke="#000" stroke-width="3.0"/>
<line x1="550" y1="822.6" x2="578.8" y2="822.6" stroke="#000" stroke-width="3.0"/>
<line x1="537.8" y1="807.7" x2="590.9" y2="807.7" stroke="#000" stroke-width="3.0"/>
<path d="M323.3 610.7V595.7H402.7V610.7" stroke="#000" stroke-width="3" fill="none" stroke-linecap="round" stroke-linejoin="miter"/>
<path d="M482.6 602.3V587.9H561.5V602.3" stroke="#000" stroke-width="3" fill="none" stroke-linecap="round" stroke-linejoin="miter"/>
<text transform="translate(296.2 590.2) scale(0.94 1)" class="pv">P= 0.033</text>
<text transform="translate(431.3 578.7) scale(0.94 1)" class="pv">P= 4.38 x 10<tspan class="ps" dy="-10">-6</tspan></text>
</g>
<g id="p-IL-10">
<line x1="763.6" y1="603.1" x2="763.6" y2="1032.8" stroke="#000" stroke-width="3.1"/>
<line x1="751.1" y1="1031.3" x2="1189.5" y2="1031.3" stroke="#000" stroke-width="3.0"/>
<text transform="translate(747.2 618.3) scale(0.95 1)" text-anchor="end" class="tk">10<tspan class="sp" dy="-12.3">5</tspan></text>
<text transform="translate(747.2 703.6) scale(0.95 1)" text-anchor="end" class="tk">10<tspan class="sp" dy="-12.3">4</tspan></text>
<text transform="translate(747.2 789) scale(0.95 1)" text-anchor="end" class="tk">10<tspan class="sp" dy="-12.3">3</tspan></text>
<text transform="translate(747.2 874.3) scale(0.95 1)" text-anchor="end" class="tk">10<tspan class="sp" dy="-12.3">2</tspan></text>
<text transform="translate(747.2 959.7) scale(0.95 1)" text-anchor="end" class="tk">10<tspan class="sp" dy="-12.3">1</tspan></text>
<text transform="translate(747.2 1045) scale(0.95 1)" text-anchor="end" class="tk">10<tspan class="sp" dy="-12.3">0</tspan></text>
<path d="M751.1 604.6H763.6M756.6 664.3H763.6M756.6 649.2H763.6M756.6 638.6H763.6M756.6 630.3H763.6M756.6 623.5H763.6M756.6 617.8H763.6M756.6 612.9H763.6M756.6 608.5H763.6M751.1 689.9H763.6M756.6 749.6H763.6M756.6 734.6H763.6M756.6 723.9H763.6M756.6 715.6H763.6M756.6 708.9H763.6M756.6 703.2H763.6M756.6 698.2H763.6M756.6 693.8H763.6M751.1 775.3H763.6M756.6 834.9H763.6M756.6 819.9H763.6M756.6 809.2H763.6M756.6 801H763.6M756.6 794.2H763.6M756.6 788.5H763.6M756.6 783.6H763.6M756.6 779.2H763.6M751.1 860.6H763.6M756.6 920.3H763.6M756.6 905.2H763.6M756.6 894.6H763.6M756.6 886.3H763.6M756.6 879.6H763.6M756.6 873.8H763.6M756.6 868.9H763.6M756.6 864.5H763.6M751.1 946H763.6M756.6 1005.6H763.6M756.6 990.6H763.6M756.6 979.9H763.6M756.6 971.6H763.6M756.6 964.9H763.6M756.6 959.2H763.6M756.6 954.2H763.6M756.6 949.9H763.6" stroke="#000" stroke-width="3.1" fill="none"/>
<path d="M816.5 1031.3V1043.8M896.5 1031.3V1043.8M976.5 1031.3V1043.8M1056.5 1031.3V1043.8M1136.5 1031.3V1043.8" stroke="#000" stroke-width="3.1" fill="none"/>
<text transform="translate(677.4 813.5) rotate(-90) scale(0.965 1)" text-anchor="middle" class="yl">IL-10</text>
<path d="M789.4 1005.3H800.8M795.1 999.6V1011M791 1001.2L799.2 1009.4M791 1009.4L799.2 1001.2" stroke="#454545" stroke-width="1.1" fill="none"/>
<path d="M800.1 1005.3H811.5M805.8 999.6V1011M801.7 1001.2L809.9 1009.4M801.7 1009.4L809.9 1001.2" stroke="#454545" stroke-width="1.1" fill="none"/>
<path d="M810.8 1005.3H822.2M816.5 999.6V1011M812.4 1001.2L820.6 1009.4M812.4 1009.4L820.6 1001.2" stroke="#454545" stroke-width="1.1" fill="none"/>
<path d="M821.6 1005.3H833M827.3 999.6V1011M823.2 1001.2L831.4 1009.4M823.2 1009.4L831.4 1001.2" stroke="#454545" stroke-width="1.1" fill="none"/>
<path d="M832.3 1005.3H843.7M838 999.6V1011M833.9 1001.2L842.1 1009.4M833.9 1009.4L842.1 1001.2" stroke="#454545" stroke-width="1.1" fill="none"/>
<line x1="783.6" y1="1005.3" x2="849.8" y2="1005.3" stroke="#000" stroke-width="3.0"/>
<circle cx="875.1" cy="746.2" r="5.8"/>
<circle cx="917" cy="748.2" r="5.8"/>
<circle cx="885.8" cy="755.1" r="5.8"/>
<circle cx="906.5" cy="752.8" r="5.8"/>
<circle cx="895.9" cy="757.7" r="5.8"/>
<circle cx="917" cy="763.6" r="5.8"/>
<circle cx="885.8" cy="767" r="5.8"/>
<circle cx="906.5" cy="767.6" r="5.8"/>
<circle cx="875.1" cy="774.9" r="5.8"/>
<circle cx="895.9" cy="774.5" r="5.8"/>
<circle cx="917" cy="778.4" r="5.8"/>
<line x1="895.9" y1="758.1" x2="895.9" y2="767.4" stroke="#000" stroke-width="3.0"/>
<line x1="881.5" y1="758.1" x2="910.5" y2="758.1" stroke="#000" stroke-width="3.0"/>
<line x1="881.5" y1="767.4" x2="910.5" y2="767.4" stroke="#000" stroke-width="3.0"/>
<line x1="869.2" y1="762.4" x2="921.9" y2="762.4" stroke="#000" stroke-width="3.0"/>
<polygon points="955.1,735.5 960.9,746.8 949.3,746.8" fill="#ff2600"/>
<polygon points="997.4,737.9 1003.2,749.2 991.6,749.2" fill="#ff2600"/>
<polygon points="976.2,740.4 982,751.7 970.4,751.7" fill="#ff2600"/>
<polygon points="955.1,746.4 960.9,757.7 949.3,757.7" fill="#ff2600"/>
<polygon points="965.8,747.3 971.6,758.6 960,758.6" fill="#ff2600"/>
<polygon points="986.7,745.4 992.5,756.7 980.9,756.7" fill="#ff2600"/>
<polygon points="997.4,758.8 1003.2,770.1 991.6,770.1" fill="#ff2600"/>
<polygon points="965.8,761.2 971.6,772.5 960,772.5" fill="#ff2600"/>
<polygon points="986.7,761.2 992.5,772.5 980.9,772.5" fill="#ff2600"/>
<polygon points="976.2,774 982,785.3 970.4,785.3" fill="#ff2600"/>
<line x1="976.2" y1="746.8" x2="976.2" y2="763.6" stroke="#000" stroke-width="3.0"/>
<line x1="961.4" y1="746.8" x2="990.7" y2="746.8" stroke="#000" stroke-width="3.0"/>
<line x1="961.4" y1="763.6" x2="990.7" y2="763.6" stroke="#000" stroke-width="3.0"/>
<line x1="949.2" y1="755.7" x2="1002.5" y2="755.7" stroke="#000" stroke-width="3.0"/>
<circle cx="1041.4" cy="690.4" r="5.4" fill="none" stroke="#000" stroke-width="3.3"/>
<circle cx="1055.6" cy="692.9" r="5.4" fill="none" stroke="#000" stroke-width="3.3"/>
<circle cx="1070" cy="692.5" r="5.4" fill="none" stroke="#000" stroke-width="3.3"/>
<circle cx="1063.1" cy="710.7" r="5.4" fill="none" stroke="#000" stroke-width="3.3"/>
<circle cx="1048.3" cy="713.7" r="5.4" fill="none" stroke="#000" stroke-width="3.3"/>
<circle cx="1048.7" cy="742.3" r="5.4" fill="none" stroke="#000" stroke-width="3.3"/>
<circle cx="1076.9" cy="743.9" r="5.4" fill="none" stroke="#000" stroke-width="3.3"/>
<circle cx="1034.9" cy="750.2" r="5.4" fill="none" stroke="#000" stroke-width="3.3"/>
<circle cx="1063.1" cy="747.2" r="5.4" fill="none" stroke="#000" stroke-width="3.3"/>
<circle cx="1048.3" cy="757.1" r="5.4" fill="none" stroke="#000" stroke-width="3.3"/>
<circle cx="1055.6" cy="768.9" r="5.4" fill="none" stroke="#000" stroke-width="3.3"/>
<circle cx="1055.6" cy="830.2" r="5.4" fill="none" stroke="#000" stroke-width="3.3"/>
<line x1="1055.6" y1="711.7" x2="1055.6" y2="762" stroke="#000" stroke-width="3.0"/>
<line x1="1041.4" y1="711.7" x2="1070" y2="711.7" stroke="#000" stroke-width="3.0"/>
<line x1="1041.4" y1="762" x2="1070" y2="762" stroke="#000" stroke-width="3.0"/>
<line x1="1029.2" y1="735.8" x2="1082.5" y2="735.8" stroke="#000" stroke-width="3.0"/>
<polygon points="1156.9,782.7 1162.2,792.6 1151.6,792.6" fill="none" stroke="#ff2600" stroke-width="2.9" stroke-linejoin="round"/>
<polygon points="1135.6,789.6 1140.9,799.5 1130.3,799.5" fill="none" stroke="#ff2600" stroke-width="2.9" stroke-linejoin="round"/>
<polygon points="1156.9,800.9 1162.2,810.8 1151.6,810.8" fill="none" stroke="#ff2600" stroke-width="2.9" stroke-linejoin="round"/>
<polygon points="1114.4,806.2 1119.7,816.1 1109.1,816.1" fill="none" stroke="#ff2600" stroke-width="2.9" stroke-linejoin="round"/>
<polygon points="1135.6,805.4 1140.9,815.3 1130.3,815.3" fill="none" stroke="#ff2600" stroke-width="2.9" stroke-linejoin="round"/>
<polygon points="1135.6,814.7 1140.9,824.6 1130.3,824.6" fill="none" stroke="#ff2600" stroke-width="2.9" stroke-linejoin="round"/>
<polygon points="1114.4,823.6 1119.7,833.5 1109.1,833.5" fill="none" stroke="#ff2600" stroke-width="2.9" stroke-linejoin="round"/>
<polygon points="1156.9,824.2 1162.2,834.1 1151.6,834.1" fill="none" stroke="#ff2600" stroke-width="2.9" stroke-linejoin="round"/>
<polygon points="1156.9,856.1 1162.2,866 1151.6,866" fill="none" stroke="#ff2600" stroke-width="2.9" stroke-linejoin="round"/>
<polygon points="1135.6,864.6 1140.9,874.5 1130.3,874.5" fill="none" stroke="#ff2600" stroke-width="2.9" stroke-linejoin="round"/>
<polygon points="1135.6,893.7 1140.9,903.6 1130.3,903.6" fill="none" stroke="#ff2600" stroke-width="2.9" stroke-linejoin="round"/>
<polygon points="1135.9,1000.4 1141.2,1010.3 1130.6,1010.3" fill="none" stroke="#ff2600" stroke-width="2.9" stroke-linejoin="round"/>
<line x1="1135.6" y1="804.5" x2="1135.6" y2="881.9" stroke="#000" stroke-width="3.0"/>
<line x1="1121.4" y1="804.5" x2="1150" y2="804.5" stroke="#000" stroke-width="3.0"/>
<line x1="1121.4" y1="881.9" x2="1150" y2="881.9" stroke="#000" stroke-width="3.0"/>
<line x1="1109.1" y1="843" x2="1162.2" y2="843" stroke="#000" stroke-width="3.0"/>
<path d="M1053.2 670.8V656.8H1132.6V670.8" stroke="#000" stroke-width="3" fill="none" stroke-linecap="round" stroke-linejoin="miter"/>
<text transform="translate(988 645.1) scale(0.94 1)" class="pv">P= 4.57 x 10<tspan class="ps" dy="-10">-5</tspan></text>
</g>
<g id="p-IL-17">
<line x1="1345" y1="605.5" x2="1345" y2="1035.2" stroke="#000" stroke-width="3.1"/>
<line x1="1332.5" y1="1033.7" x2="1773" y2="1033.7" stroke="#000" stroke-width="3.0"/>
<text transform="translate(1328.6 620.7) scale(0.95 1)" text-anchor="end" class="tk">10<tspan class="sp" dy="-12.3">4</tspan></text>
<text transform="translate(1328.6 706) scale(0.95 1)" text-anchor="end" class="tk">10<tspan class="sp" dy="-12.3">3</tspan></text>
<text transform="translate(1328.6 791.4) scale(0.95 1)" text-anchor="end" class="tk">10<tspan class="sp" dy="-12.3">2</tspan></text>
<text transform="translate(1328.6 876.7) scale(0.95 1)" text-anchor="end" class="tk">10<tspan class="sp" dy="-12.3">1</tspan></text>
<text transform="translate(1328.6 962.1) scale(0.95 1)" text-anchor="end" class="tk">10<tspan class="sp" dy="-12.3">0</tspan></text>
<text transform="translate(1328.6 1047.4) scale(0.95 1)" text-anchor="end" class="tk">10<tspan class="sp" dy="-12.3">-1</tspan></text>
<path d="M1332.5 607H1345M1338 666.7H1345M1338 651.6H1345M1338 641H1345M1338 632.7H1345M1338 625.9H1345M1338 620.2H1345M1338 615.3H1345M1338 610.9H1345M1332.5 692.3H1345M1338 752H1345M1338 737H1345M1338 726.3H1345M1338 718H1345M1338 711.3H1345M1338 705.6H1345M1338 700.6H1345M1338 696.2H1345M1332.5 777.7H1345M1338 837.3H1345M1338 822.3H1345M1338 811.6H1345M1338 803.4H1345M1338 796.6H1345M1338 790.9H1345M1338 786H1345M1338 781.6H1345M1332.5 863H1345M1338 922.7H1345M1338 907.6H1345M1338 897H1345M1338 888.7H1345M1338 882H1345M1338 876.2H1345M1338 871.3H1345M1338 866.9H1345M1332.5 948.4H1345M1338 1008H1345M1338 993H1345M1338 982.3H1345M1338 974H1345M1338 967.3H1345M1338 961.6H1345M1338 956.6H1345M1338 952.3H1345" stroke="#000" stroke-width="3.1" fill="none"/>
<path d="M1398 1033.7V1046.2M1478 1033.7V1046.2M1558 1033.7V1046.2M1638 1033.7V1046.2M1718 1033.7V1046.2" stroke="#000" stroke-width="3.1" fill="none"/>
<text transform="translate(1249.7 816.3) rotate(-90) scale(0.965 1)" text-anchor="middle" class="yl">IL-17</text>
<path d="M1392.5 867.6H1403.9M1398.2 861.9V873.3M1394.1 863.5L1402.3 871.7M1394.1 871.7L1402.3 863.5" stroke="#454545" stroke-width="1.1" fill="none"/>
<path d="M1371.5 974.7H1382.9M1377.2 969V980.4M1373.1 970.6L1381.3 978.8M1373.1 978.8L1381.3 970.6" stroke="#454545" stroke-width="1.1" fill="none"/>
<path d="M1385.6 974.7H1397M1391.3 969V980.4M1387.2 970.6L1395.4 978.8M1387.2 978.8L1395.4 970.6" stroke="#454545" stroke-width="1.1" fill="none"/>
<path d="M1399.6 974.7H1411M1405.3 969V980.4M1401.2 970.6L1409.4 978.8M1401.2 978.8L1409.4 970.6" stroke="#454545" stroke-width="1.1" fill="none"/>
<path d="M1414.2 974.7H1425.6M1419.9 969V980.4M1415.8 970.6L1424 978.8M1415.8 978.8L1424 970.6" stroke="#454545" stroke-width="1.1" fill="none"/>
<line x1="1398.2" y1="893.9" x2="1398.2" y2="1012.5" stroke="#454545" stroke-width="3.0"/>
<line x1="1384.1" y1="893.9" x2="1412.2" y2="893.9" stroke="#454545" stroke-width="3.0" stroke-linecap="round"/>
<line x1="1384.1" y1="1012.5" x2="1412.2" y2="1012.5" stroke="#454545" stroke-width="3.0" stroke-linecap="round"/>
<line x1="1364.9" y1="953.2" x2="1431.4" y2="953.2" stroke="#000" stroke-width="3.0"/>
<circle cx="1484.9" cy="780.9" r="5.8"/>
<circle cx="1470.9" cy="791.2" r="5.8"/>
<circle cx="1484.9" cy="795.3" r="5.8"/>
<circle cx="1456.7" cy="798.3" r="5.8"/>
<circle cx="1470.9" cy="804.6" r="5.8"/>
<circle cx="1484.9" cy="814.4" r="5.8"/>
<circle cx="1456.7" cy="817" r="5.8"/>
<circle cx="1470.9" cy="821" r="5.8"/>
<circle cx="1499.5" cy="819.4" r="5.8"/>
<circle cx="1484.9" cy="828.3" r="5.8"/>
<circle cx="1478" cy="845.6" r="5.8"/>
<line x1="1478" y1="798.3" x2="1478" y2="823.3" stroke="#000" stroke-width="3.0"/>
<line x1="1464.2" y1="798.3" x2="1492.2" y2="798.3" stroke="#000" stroke-width="3.0"/>
<line x1="1464.2" y1="823.3" x2="1492.2" y2="823.3" stroke="#000" stroke-width="3.0"/>
<line x1="1451.4" y1="810.1" x2="1504.5" y2="810.1" stroke="#000" stroke-width="3.0"/>
<polygon points="1537.1,766.2 1542.9,777.5 1531.3,777.5" fill="#ff2600"/>
<polygon points="1557.8,773.1 1563.6,784.4 1552,784.4" fill="#ff2600"/>
<polygon points="1537.1,784.6 1542.9,795.9 1531.3,795.9" fill="#ff2600"/>
<polygon points="1547.5,782 1553.3,793.3 1541.7,793.3" fill="#ff2600"/>
<polygon points="1568.2,784.6 1574,795.9 1562.4,795.9" fill="#ff2600"/>
<polygon points="1557.8,788.9 1563.6,800.2 1552,800.2" fill="#ff2600"/>
<polygon points="1547.5,794.8 1553.3,806.1 1541.7,806.1" fill="#ff2600"/>
<polygon points="1568.2,795.2 1574,806.5 1562.4,806.5" fill="#ff2600"/>
<polygon points="1557.8,798.8 1563.6,810.1 1552,810.1" fill="#ff2600"/>
<polygon points="1562.9,821.5 1568.7,832.8 1557.1,832.8" fill="#ff2600"/>
<polygon points="1552.5,830 1558.3,841.3 1546.7,841.3" fill="#ff2600"/>
<line x1="1557.8" y1="784.4" x2="1557.8" y2="809.9" stroke="#000" stroke-width="3.0"/>
<line x1="1543.6" y1="784.4" x2="1572.2" y2="784.4" stroke="#000" stroke-width="3.0"/>
<line x1="1543.6" y1="809.9" x2="1572.2" y2="809.9" stroke="#000" stroke-width="3.0"/>
<line x1="1531.3" y1="797.1" x2="1584.6" y2="797.1" stroke="#000" stroke-width="3.0"/>
<circle cx="1617" cy="622.9" r="5.4" fill="none" stroke="#000" stroke-width="3.3"/>
<circle cx="1637.8" cy="627.3" r="5.4" fill="none" stroke="#000" stroke-width="3.3"/>
<circle cx="1627.1" cy="661.4" r="5.4" fill="none" stroke="#000" stroke-width="3.3"/>
<circle cx="1648.2" cy="664" r="5.4" fill="none" stroke="#000" stroke-width="3.3"/>
<circle cx="1617" cy="697" r="5.4" fill="none" stroke="#000" stroke-width="3.3"/>
<circle cx="1637.8" cy="707.8" r="5.4" fill="none" stroke="#000" stroke-width="3.3"/>
<circle cx="1637.8" cy="720.1" r="5.4" fill="none" stroke="#000" stroke-width="3.3"/>
<circle cx="1617" cy="778.3" r="5.4" fill="none" stroke="#000" stroke-width="3.3"/>
<circle cx="1659.1" cy="778.3" r="5.4" fill="none" stroke="#000" stroke-width="3.3"/>
<circle cx="1637.8" cy="788.8" r="5.4" fill="none" stroke="#000" stroke-width="3.3"/>
<circle cx="1637.8" cy="829.3" r="5.4" fill="none" stroke="#000" stroke-width="3.3"/>
<line x1="1637.8" y1="668.9" x2="1637.8" y2="762.5" stroke="#000" stroke-width="3.0"/>
<line x1="1623.5" y1="668.9" x2="1652.2" y2="668.9" stroke="#000" stroke-width="3.0"/>
<line x1="1623.5" y1="762.5" x2="1652.2" y2="762.5" stroke="#000" stroke-width="3.0"/>
<line x1="1611.3" y1="715.7" x2="1664.4" y2="715.7" stroke="#000" stroke-width="3.0"/>
<polygon points="1717.6,911.1 1722.9,921 1712.3,921" fill="none" stroke="#ff2600" stroke-width="2.9" stroke-linejoin="round"/>
<polygon points="1717.6,916.7 1722.9,926.6 1712.3,926.6" fill="none" stroke="#ff2600" stroke-width="2.9" stroke-linejoin="round"/>
<polygon points="1697.2,969.1 1702.5,979 1691.9,979" fill="none" stroke="#ff2600" stroke-width="2.9" stroke-linejoin="round"/>
<polygon points="1701.8,969.1 1707.1,979 1696.5,979" fill="none" stroke="#ff2600" stroke-width="2.9" stroke-linejoin="round"/>
<polygon points="1706.4,969.1 1711.7,979 1701.1,979" fill="none" stroke="#ff2600" stroke-width="2.9" stroke-linejoin="round"/>
<polygon points="1710.9,969.1 1716.2,979 1705.6,979" fill="none" stroke="#ff2600" stroke-width="2.9" stroke-linejoin="round"/>
<polygon points="1715.5,969.1 1720.8,979 1710.2,979" fill="none" stroke="#ff2600" stroke-width="2.9" stroke-linejoin="round"/>
<polygon points="1720.1,969.1 1725.4,979 1714.8,979" fill="none" stroke="#ff2600" stroke-width="2.9" stroke-linejoin="round"/>
<polygon points="1724.7,969.1 1730,979 1719.4,979" fill="none" stroke="#ff2600" stroke-width="2.9" stroke-linejoin="round"/>
<polygon points="1729.2,969.1 1734.5,979 1723.9,979" fill="none" stroke="#ff2600" stroke-width="2.9" stroke-linejoin="round"/>
<polygon points="1733.8,969.1 1739.1,979 1728.5,979" fill="none" stroke="#ff2600" stroke-width="2.9" stroke-linejoin="round"/>
<polygon points="1738.4,969.1 1743.7,979 1733.1,979" fill="none" stroke="#ff2600" stroke-width="2.9" stroke-linejoin="round"/>
<line x1="1717.6" y1="951.4" x2="1717.6" y2="978.7" stroke="#000" stroke-width="3.0"/>
<line x1="1703.5" y1="951.4" x2="1731.6" y2="951.4" stroke="#000" stroke-width="3.0"/>
<line x1="1703.5" y1="978.7" x2="1731.6" y2="978.7" stroke="#000" stroke-width="3.0"/>
<line x1="1691.2" y1="965.2" x2="1743.9" y2="965.2" stroke="#000" stroke-width="3.0"/>
<path d="M1635.4 605.3V591.1H1714.8V605.3" stroke="#000" stroke-width="3" fill="none" stroke-linecap="round" stroke-linejoin="miter"/>
<text transform="translate(1559.8 582) scale(0.94 1)" class="pv">P= 1.06 x 10<tspan class="ps" dy="-10">-7</tspan></text>
</g>
<g id="p-CXCL1">
<line x1="191.2" y1="1140.9" x2="191.2" y2="1570.8" stroke="#000" stroke-width="3.1"/>
<line x1="178.7" y1="1569.3" x2="618" y2="1569.3" stroke="#000" stroke-width="3.0"/>
<text transform="translate(174.8 1156.1) scale(0.95 1)" text-anchor="end" class="tk">10<tspan class="sp" dy="-12.3">7</tspan></text>
<text transform="translate(174.8 1217.1) scale(0.95 1)" text-anchor="end" class="tk">10<tspan class="sp" dy="-12.3">6</tspan></text>
<text transform="translate(174.8 1278.1) scale(0.95 1)" text-anchor="end" class="tk">10<tspan class="sp" dy="-12.3">5</tspan></text>
<text transform="translate(174.8 1339.1) scale(0.95 1)" text-anchor="end" class="tk">10<tspan class="sp" dy="-12.3">4</tspan></text>
<text transform="translate(174.8 1400) scale(0.95 1)" text-anchor="end" class="tk">10<tspan class="sp" dy="-12.3">3</tspan></text>
<text transform="translate(174.8 1461) scale(0.95 1)" text-anchor="end" class="tk">10<tspan class="sp" dy="-12.3">2</tspan></text>
<text transform="translate(174.8 1522) scale(0.95 1)" text-anchor="end" class="tk">10<tspan class="sp" dy="-12.3">1</tspan></text>
<text transform="translate(174.8 1583) scale(0.95 1)" text-anchor="end" class="tk">10<tspan class="sp" dy="-12.3">0</tspan></text>
<path d="M178.7 1142.4H191.2M184.2 1185H191.2M184.2 1174.3H191.2M184.2 1166.7H191.2M184.2 1160.8H191.2M184.2 1155.9H191.2M184.2 1151.8H191.2M184.2 1148.3H191.2M184.2 1145.2H191.2M178.7 1203.4H191.2M184.2 1246H191.2M184.2 1235.3H191.2M184.2 1227.7H191.2M184.2 1221.7H191.2M184.2 1216.9H191.2M184.2 1212.8H191.2M184.2 1209.3H191.2M184.2 1206.2H191.2M178.7 1264.4H191.2M184.2 1307H191.2M184.2 1296.3H191.2M184.2 1288.6H191.2M184.2 1282.7H191.2M184.2 1277.9H191.2M184.2 1273.8H191.2M184.2 1270.3H191.2M184.2 1267.2H191.2M178.7 1325.4H191.2M184.2 1368H191.2M184.2 1357.2H191.2M184.2 1349.6H191.2M184.2 1343.7H191.2M184.2 1338.9H191.2M184.2 1334.8H191.2M184.2 1331.3H191.2M184.2 1328.1H191.2M178.7 1386.3H191.2M184.2 1429H191.2M184.2 1418.2H191.2M184.2 1410.6H191.2M184.2 1404.7H191.2M184.2 1399.9H191.2M184.2 1395.8H191.2M184.2 1392.3H191.2M184.2 1389.1H191.2M178.7 1447.3H191.2M184.2 1490H191.2M184.2 1479.2H191.2M184.2 1471.6H191.2M184.2 1465.7H191.2M184.2 1460.9H191.2M184.2 1456.8H191.2M184.2 1453.2H191.2M184.2 1450.1H191.2M178.7 1508.3H191.2M184.2 1550.9H191.2M184.2 1540.2H191.2M184.2 1532.6H191.2M184.2 1526.7H191.2M184.2 1521.8H191.2M184.2 1517.8H191.2M184.2 1514.2H191.2M184.2 1511.1H191.2" stroke="#000" stroke-width="3.1" fill="none"/>
<path d="M244.3 1569.3V1581.8M324.3 1569.3V1581.8M404.3 1569.3V1581.8M484.3 1569.3V1581.8M564.3 1569.3V1581.8" stroke="#000" stroke-width="3.1" fill="none"/>
<text transform="translate(107.8 1340.6) rotate(-90) scale(0.965 1)" text-anchor="middle" class="yl">CXCL1</text>
<path d="M217.3 1423.9H228.7M223 1418.2V1429.6M218.9 1419.8L227.1 1428M218.9 1428L227.1 1419.8" stroke="#454545" stroke-width="1.1" fill="none"/>
<path d="M238.5 1419H249.9M244.2 1413.3V1424.7M240.1 1414.9L248.3 1423.1M240.1 1423.1L248.3 1414.9" stroke="#454545" stroke-width="1.1" fill="none"/>
<path d="M259.4 1423.9H270.8M265.1 1418.2V1429.6M261 1419.8L269.2 1428M261 1428L269.2 1419.8" stroke="#454545" stroke-width="1.1" fill="none"/>
<path d="M238.5 1458.4H249.9M244.2 1452.7V1464.1M240.1 1454.3L248.3 1462.5M240.1 1462.5L248.3 1454.3" stroke="#454545" stroke-width="1.1" fill="none"/>
<path d="M238.5 1547.7H249.9M244.2 1542V1553.4M240.1 1543.6L248.3 1551.8M240.1 1551.8L248.3 1543.6" stroke="#454545" stroke-width="1.1" fill="none"/>
<line x1="244.2" y1="1387.4" x2="244.2" y2="1522" stroke="#454545" stroke-width="3.0"/>
<line x1="230.5" y1="1387.4" x2="258.4" y2="1387.4" stroke="#454545" stroke-width="3.0" stroke-linecap="round"/>
<line x1="230.5" y1="1522" x2="258.4" y2="1522" stroke="#454545" stroke-width="3.0" stroke-linecap="round"/>
<line x1="211.2" y1="1454.3" x2="277.7" y2="1454.3" stroke="#000" stroke-width="3.0"/>
<circle cx="334.5" cy="1201.2" r="5.8"/>
<circle cx="324" cy="1209" r="5.8"/>
<circle cx="313.8" cy="1230.4" r="5.8"/>
<circle cx="303.2" cy="1234.6" r="5.8"/>
<circle cx="324" cy="1237.8" r="5.8"/>
<circle cx="334.5" cy="1240" r="5.8"/>
<circle cx="345" cy="1239.6" r="5.8"/>
<circle cx="313.8" cy="1246.1" r="5.8"/>
<circle cx="324" cy="1250.8" r="5.8"/>
<circle cx="334.5" cy="1254.1" r="5.8"/>
<circle cx="313.8" cy="1261" r="5.8"/>
<line x1="324" y1="1224.8" x2="324" y2="1248.9" stroke="#000" stroke-width="3.0"/>
<line x1="309.7" y1="1224.8" x2="338.5" y2="1224.8" stroke="#000" stroke-width="3.0"/>
<line x1="309.7" y1="1248.9" x2="338.5" y2="1248.9" stroke="#000" stroke-width="3.0"/>
<line x1="297.7" y1="1237.4" x2="350.6" y2="1237.4" stroke="#000" stroke-width="3.0"/>
<polygon points="411.4,1220.5 417.2,1231.8 405.6,1231.8" fill="#ff2600"/>
<polygon points="397.1,1228.3 402.9,1239.6 391.3,1239.6" fill="#ff2600"/>
<polygon points="411.4,1240.3 417.2,1251.6 405.6,1251.6" fill="#ff2600"/>
<polygon points="382.8,1245.9 388.6,1257.2 377,1257.2" fill="#ff2600"/>
<polygon points="397.1,1246.9 402.9,1258.2 391.3,1258.2" fill="#ff2600"/>
<polygon points="425,1249.6 430.8,1260.9 419.2,1260.9" fill="#ff2600"/>
<polygon points="411.4,1254.3 417.2,1265.6 405.6,1265.6" fill="#ff2600"/>
<polygon points="382.8,1257.6 388.6,1268.9 377,1268.9" fill="#ff2600"/>
<polygon points="397.1,1266.4 402.9,1277.7 391.3,1277.7" fill="#ff2600"/>
<polygon points="411.4,1270.5 417.2,1281.8 405.6,1281.8" fill="#ff2600"/>
<polygon points="397.1,1280.9 402.9,1292.2 391.3,1292.2" fill="#ff2600"/>
<line x1="403.6" y1="1244.3" x2="403.6" y2="1268.1" stroke="#000" stroke-width="3.0"/>
<line x1="389.6" y1="1244.3" x2="418.5" y2="1244.3" stroke="#000" stroke-width="3.0"/>
<line x1="389.6" y1="1268.1" x2="418.5" y2="1268.1" stroke="#000" stroke-width="3.0"/>
<line x1="377.2" y1="1256.7" x2="430.5" y2="1256.7" stroke="#000" stroke-width="3.0"/>
<circle cx="490.9" cy="1224.4" r="5.4" fill="none" stroke="#000" stroke-width="3.3"/>
<circle cx="476.6" cy="1235" r="5.4" fill="none" stroke="#000" stroke-width="3.3"/>
<circle cx="476.6" cy="1246.1" r="5.4" fill="none" stroke="#000" stroke-width="3.3"/>
<circle cx="490.9" cy="1246.1" r="5.4" fill="none" stroke="#000" stroke-width="3.3"/>
<circle cx="490.9" cy="1262.3" r="5.4" fill="none" stroke="#000" stroke-width="3.3"/>
<circle cx="504.9" cy="1265.1" r="5.4" fill="none" stroke="#000" stroke-width="3.3"/>
<circle cx="462.7" cy="1266.6" r="5.4" fill="none" stroke="#000" stroke-width="3.3"/>
<circle cx="476.6" cy="1268.5" r="5.4" fill="none" stroke="#000" stroke-width="3.3"/>
<circle cx="490.9" cy="1321.4" r="5.4" fill="none" stroke="#000" stroke-width="3.3"/>
<circle cx="476.6" cy="1331.3" r="5.4" fill="none" stroke="#000" stroke-width="3.3"/>
<circle cx="483.9" cy="1350.6" r="5.4" fill="none" stroke="#000" stroke-width="3.3"/>
<circle cx="483.9" cy="1404.1" r="5.4" fill="none" stroke="#000" stroke-width="3.3"/>
<line x1="484.4" y1="1250.8" x2="484.4" y2="1319.6" stroke="#000" stroke-width="3.0"/>
<line x1="469.6" y1="1250.8" x2="498.4" y2="1250.8" stroke="#000" stroke-width="3.0"/>
<line x1="469.6" y1="1319.6" x2="498.4" y2="1319.6" stroke="#000" stroke-width="3.0"/>
<line x1="456.9" y1="1284.8" x2="510.8" y2="1284.8" stroke="#000" stroke-width="3.0"/>
<polygon points="563.4,1348 568.7,1357.9 558.1,1357.9" fill="none" stroke="#ff2600" stroke-width="2.9" stroke-linejoin="round"/>
<polygon points="550.8,1362.6 556.1,1372.5 545.5,1372.5" fill="none" stroke="#ff2600" stroke-width="2.9" stroke-linejoin="round"/>
<polygon points="542,1367.8 547.3,1377.7 536.7,1377.7" fill="none" stroke="#ff2600" stroke-width="2.9" stroke-linejoin="round"/>
<polygon points="585.7,1367.8 591,1377.7 580.4,1377.7" fill="none" stroke="#ff2600" stroke-width="2.9" stroke-linejoin="round"/>
<polygon points="557.8,1372.5 563.1,1382.4 552.5,1382.4" fill="none" stroke="#ff2600" stroke-width="2.9" stroke-linejoin="round"/>
<polygon points="569,1372.5 574.3,1382.4 563.7,1382.4" fill="none" stroke="#ff2600" stroke-width="2.9" stroke-linejoin="round"/>
<polygon points="577.3,1371.6 582.6,1381.5 572,1381.5" fill="none" stroke="#ff2600" stroke-width="2.9" stroke-linejoin="round"/>
<polygon points="550.8,1376.2 556.1,1386.1 545.5,1386.1" fill="none" stroke="#ff2600" stroke-width="2.9" stroke-linejoin="round"/>
<polygon points="569,1383.6 574.3,1393.5 563.7,1393.5" fill="none" stroke="#ff2600" stroke-width="2.9" stroke-linejoin="round"/>
<polygon points="563.4,1397.6 568.7,1407.5 558.1,1407.5" fill="none" stroke="#ff2600" stroke-width="2.9" stroke-linejoin="round"/>
<polygon points="568.1,1423.2 573.4,1433.1 562.8,1433.1" fill="none" stroke="#ff2600" stroke-width="2.9" stroke-linejoin="round"/>
<polygon points="559.3,1433.8 564.6,1443.7 554,1443.7" fill="none" stroke="#ff2600" stroke-width="2.9" stroke-linejoin="round"/>
<line x1="563.8" y1="1370.7" x2="563.8" y2="1401.7" stroke="#000" stroke-width="3.0"/>
<line x1="549.5" y1="1370.7" x2="578.3" y2="1370.7" stroke="#000" stroke-width="3.0"/>
<line x1="549.5" y1="1401.7" x2="578.3" y2="1401.7" stroke="#000" stroke-width="3.0"/>
<line x1="537.4" y1="1386.1" x2="590.4" y2="1386.1" stroke="#000" stroke-width="3.0"/>
<path d="M323.7 1184.4V1170H403V1184.4" stroke="#000" stroke-width="3" fill="none" stroke-linecap="round" stroke-linejoin="miter"/>
<path d="M481.3 1209.1V1194.9H560.6V1209.1" stroke="#000" stroke-width="3" fill="none" stroke-linecap="round" stroke-linejoin="miter"/>
<text transform="translate(259.8 1160.2) scale(0.94 1)" class="pv">P= 9.59 x 10<tspan class="ps" dy="-10">-3</tspan></text>
<text transform="translate(431.3 1182.5) scale(0.94 1)" class="pv">P= 1.25 x 10<tspan class="ps" dy="-10">-5</tspan></text>
</g>
<g id="p-CXCL2">
<line x1="763.6" y1="1141.4" x2="763.6" y2="1570.8" stroke="#000" stroke-width="3.1"/>
<line x1="751.1" y1="1569.3" x2="1189.5" y2="1569.3" stroke="#000" stroke-width="3.0"/>
<text transform="translate(747.2 1156.6) scale(0.95 1)" text-anchor="end" class="tk">10<tspan class="sp" dy="-12.3">6</tspan></text>
<text transform="translate(747.2 1241.9) scale(0.95 1)" text-anchor="end" class="tk">10<tspan class="sp" dy="-12.3">5</tspan></text>
<text transform="translate(747.2 1327.2) scale(0.95 1)" text-anchor="end" class="tk">10<tspan class="sp" dy="-12.3">4</tspan></text>
<text transform="translate(747.2 1412.4) scale(0.95 1)" text-anchor="end" class="tk">10<tspan class="sp" dy="-12.3">3</tspan></text>
<text transform="translate(747.2 1497.7) scale(0.95 1)" text-anchor="end" class="tk">10<tspan class="sp" dy="-12.3">2</tspan></text>
<text transform="translate(747.2 1583) scale(0.95 1)" text-anchor="end" class="tk">10<tspan class="sp" dy="-12.3">1</tspan></text>
<path d="M751.1 1142.9H763.6M756.6 1202.5H763.6M756.6 1187.5H763.6M756.6 1176.8H763.6M756.6 1168.6H763.6M756.6 1161.8H763.6M756.6 1156.1H763.6M756.6 1151.2H763.6M756.6 1146.8H763.6M751.1 1228.2H763.6M756.6 1287.8H763.6M756.6 1272.8H763.6M756.6 1262.1H763.6M756.6 1253.9H763.6M756.6 1247.1H763.6M756.6 1241.4H763.6M756.6 1236.4H763.6M756.6 1232.1H763.6M751.1 1313.5H763.6M756.6 1373.1H763.6M756.6 1358.1H763.6M756.6 1347.4H763.6M756.6 1339.1H763.6M756.6 1332.4H763.6M756.6 1326.7H763.6M756.6 1321.7H763.6M756.6 1317.4H763.6M751.1 1398.7H763.6M756.6 1458.3H763.6M756.6 1443.3H763.6M756.6 1432.7H763.6M756.6 1424.4H763.6M756.6 1417.7H763.6M756.6 1412H763.6M756.6 1407H763.6M756.6 1402.6H763.6M751.1 1484H763.6M756.6 1543.6H763.6M756.6 1528.6H763.6M756.6 1518H763.6M756.6 1509.7H763.6M756.6 1502.9H763.6M756.6 1497.2H763.6M756.6 1492.3H763.6M756.6 1487.9H763.6" stroke="#000" stroke-width="3.1" fill="none"/>
<path d="M816 1569.3V1581.8M896 1569.3V1581.8M976 1569.3V1581.8M1056 1569.3V1581.8M1136 1569.3V1581.8" stroke="#000" stroke-width="3.1" fill="none"/>
<text transform="translate(678.4 1339) rotate(-90) scale(0.965 1)" text-anchor="middle" class="yl">CXCL2</text>
<path d="M810.3 1432.1H821.7M816 1426.4V1437.8M811.9 1428L820.1 1436.2M811.9 1436.2L820.1 1428" stroke="#454545" stroke-width="1.1" fill="none"/>
<path d="M821.5 1447.4H832.9M827.2 1441.7V1453.1M823.1 1443.3L831.3 1451.5M823.1 1451.5L831.3 1443.3" stroke="#454545" stroke-width="1.1" fill="none"/>
<path d="M798.8 1457.8H810.2M804.5 1452.1V1463.5M800.4 1453.7L808.6 1461.9M800.4 1461.9L808.6 1453.7" stroke="#454545" stroke-width="1.1" fill="none"/>
<path d="M810.3 1472.1H821.7M816 1466.4V1477.8M811.9 1468L820.1 1476.2M811.9 1476.2L820.1 1468" stroke="#454545" stroke-width="1.1" fill="none"/>
<path d="M810.3 1527.9H821.7M816 1522.2V1533.6M811.9 1523.8L820.1 1532M811.9 1532L820.1 1523.8" stroke="#454545" stroke-width="1.1" fill="none"/>
<line x1="816" y1="1421.6" x2="816" y2="1513.2" stroke="#454545" stroke-width="3.0"/>
<line x1="802.1" y1="1421.6" x2="830" y2="1421.6" stroke="#454545" stroke-width="3.0" stroke-linecap="round"/>
<line x1="802.1" y1="1513.2" x2="830" y2="1513.2" stroke="#454545" stroke-width="3.0" stroke-linecap="round"/>
<line x1="782.9" y1="1467.2" x2="849.1" y2="1467.2" stroke="#000" stroke-width="3.0"/>
<circle cx="891.9" cy="1234.5" r="5.8"/>
<circle cx="900.2" cy="1233.5" r="5.8"/>
<circle cx="908.5" cy="1232.5" r="5.8"/>
<circle cx="874.6" cy="1254.3" r="5.8"/>
<circle cx="917" cy="1252.7" r="5.8"/>
<circle cx="891.9" cy="1255.2" r="5.8"/>
<circle cx="882.8" cy="1261.2" r="5.8"/>
<circle cx="908.5" cy="1260.2" r="5.8"/>
<circle cx="899.2" cy="1264.1" r="5.8"/>
<circle cx="895.3" cy="1277.4" r="5.8"/>
<circle cx="895.3" cy="1301.6" r="5.8"/>
<line x1="895.9" y1="1243.4" x2="895.9" y2="1270.5" stroke="#000" stroke-width="3.0"/>
<line x1="881.5" y1="1243.4" x2="910.1" y2="1243.4" stroke="#000" stroke-width="3.0"/>
<line x1="881.5" y1="1270.5" x2="910.1" y2="1270.5" stroke="#000" stroke-width="3.0"/>
<line x1="869.2" y1="1256.8" x2="922.5" y2="1256.8" stroke="#000" stroke-width="3.0"/>
<polygon points="970.3,1239 976.1,1250.3 964.5,1250.3" fill="#ff2600"/>
<polygon points="980.8,1239 986.6,1250.3 975,1250.3" fill="#ff2600"/>
<polygon points="965.4,1267.8 971.2,1279.1 959.6,1279.1" fill="#ff2600"/>
<polygon points="955.1,1274.5 960.9,1285.8 949.3,1285.8" fill="#ff2600"/>
<polygon points="997.4,1276.1 1003.2,1287.4 991.6,1287.4" fill="#ff2600"/>
<polygon points="986.7,1282 992.5,1293.3 980.9,1293.3" fill="#ff2600"/>
<polygon points="965.4,1286 971.2,1297.3 959.6,1297.3" fill="#ff2600"/>
<polygon points="976.2,1283 982,1294.3 970.4,1294.3" fill="#ff2600"/>
<polygon points="986.7,1291.9 992.5,1303.2 980.9,1303.2" fill="#ff2600"/>
<polygon points="975.8,1307.7 981.6,1319 970,1319" fill="#ff2600"/>
<polygon points="975.8,1329.4 981.6,1340.7 970,1340.7" fill="#ff2600"/>
<line x1="975.8" y1="1267.1" x2="975.8" y2="1302.6" stroke="#000" stroke-width="3.0"/>
<line x1="961.4" y1="1267.1" x2="990.1" y2="1267.1" stroke="#000" stroke-width="3.0"/>
<line x1="961.4" y1="1302.6" x2="990.1" y2="1302.6" stroke="#000" stroke-width="3.0"/>
<line x1="949.2" y1="1284.5" x2="1002.3" y2="1284.5" stroke="#000" stroke-width="3.0"/>
<circle cx="1067.1" cy="1196.4" r="5.4" fill="none" stroke="#000" stroke-width="3.3"/>
<circle cx="1044" cy="1202.5" r="5.4" fill="none" stroke="#000" stroke-width="3.3"/>
<circle cx="1067.1" cy="1224.6" r="5.4" fill="none" stroke="#000" stroke-width="3.3"/>
<circle cx="1044" cy="1229.2" r="5.4" fill="none" stroke="#000" stroke-width="3.3"/>
<circle cx="1067.1" cy="1240.4" r="5.4" fill="none" stroke="#000" stroke-width="3.3"/>
<circle cx="1044" cy="1249.3" r="5.4" fill="none" stroke="#000" stroke-width="3.3"/>
<circle cx="1067.1" cy="1317.8" r="5.4" fill="none" stroke="#000" stroke-width="3.3"/>
<circle cx="1044" cy="1321.8" r="5.4" fill="none" stroke="#000" stroke-width="3.3"/>
<circle cx="1055.5" cy="1399.4" r="5.4" fill="none" stroke="#000" stroke-width="3.3"/>
<circle cx="1055.5" cy="1411.9" r="5.4" fill="none" stroke="#000" stroke-width="3.3"/>
<circle cx="1055.5" cy="1428.5" r="5.4" fill="none" stroke="#000" stroke-width="3.3"/>
<circle cx="1055.5" cy="1456.7" r="5.4" fill="none" stroke="#000" stroke-width="3.3"/>
<line x1="1055.6" y1="1245.4" x2="1055.6" y2="1366.8" stroke="#000" stroke-width="3.0"/>
<line x1="1041.4" y1="1245.4" x2="1070" y2="1245.4" stroke="#000" stroke-width="3.0"/>
<line x1="1041.4" y1="1366.8" x2="1070" y2="1366.8" stroke="#000" stroke-width="3.0"/>
<line x1="1029.2" y1="1306.2" x2="1081.9" y2="1306.2" stroke="#000" stroke-width="3.0"/>
<polygon points="1114.4,1432.5 1119.7,1442.4 1109.1,1442.4" fill="none" stroke="#ff2600" stroke-width="2.9" stroke-linejoin="round"/>
<polygon points="1135.3,1434.2 1140.6,1444.1 1130,1444.1" fill="none" stroke="#ff2600" stroke-width="2.9" stroke-linejoin="round"/>
<polygon points="1128.9,1437.7 1134.2,1447.6 1123.6,1447.6" fill="none" stroke="#ff2600" stroke-width="2.9" stroke-linejoin="round"/>
<polygon points="1114.4,1445.2 1119.7,1455.1 1109.1,1455.1" fill="none" stroke="#ff2600" stroke-width="2.9" stroke-linejoin="round"/>
<polygon points="1120.8,1445.8 1126.1,1455.7 1115.5,1455.7" fill="none" stroke="#ff2600" stroke-width="2.9" stroke-linejoin="round"/>
<polygon points="1127.8,1447.6 1133.1,1457.5 1122.5,1457.5" fill="none" stroke="#ff2600" stroke-width="2.9" stroke-linejoin="round"/>
<polygon points="1142.9,1447 1148.2,1456.9 1137.6,1456.9" fill="none" stroke="#ff2600" stroke-width="2.9" stroke-linejoin="round"/>
<polygon points="1149.2,1447 1154.5,1456.9 1143.9,1456.9" fill="none" stroke="#ff2600" stroke-width="2.9" stroke-linejoin="round"/>
<polygon points="1155.6,1449.9 1160.9,1459.8 1150.3,1459.8" fill="none" stroke="#ff2600" stroke-width="2.9" stroke-linejoin="round"/>
<polygon points="1127.8,1451.1 1133.1,1461 1122.5,1461" fill="none" stroke="#ff2600" stroke-width="2.9" stroke-linejoin="round"/>
<polygon points="1156.8,1452.8 1162.1,1462.7 1151.5,1462.7" fill="none" stroke="#ff2600" stroke-width="2.9" stroke-linejoin="round"/>
<polygon points="1135.3,1478.9 1140.6,1488.8 1130,1488.8" fill="none" stroke="#ff2600" stroke-width="2.9" stroke-linejoin="round"/>
<polygon points="1135.3,1523.6 1140.6,1533.5 1130,1533.5" fill="none" stroke="#ff2600" stroke-width="2.9" stroke-linejoin="round"/>
<line x1="1135.3" y1="1443.3" x2="1135.3" y2="1474.3" stroke="#000" stroke-width="3.0"/>
<line x1="1120.8" y1="1443.3" x2="1149.8" y2="1443.3" stroke="#000" stroke-width="3.0"/>
<line x1="1120.8" y1="1474.3" x2="1149.8" y2="1474.3" stroke="#000" stroke-width="3.0"/>
<line x1="1108.9" y1="1458.7" x2="1161.8" y2="1458.7" stroke="#000" stroke-width="3.0"/>
<path d="M895.9 1214.4V1200.4H974.9V1214.4" stroke="#000" stroke-width="3" fill="none" stroke-linecap="round" stroke-linejoin="miter"/>
<path d="M1052.8 1181.8V1167.8H1132.2V1181.8" stroke="#000" stroke-width="3" fill="none" stroke-linecap="round" stroke-linejoin="miter"/>
<text transform="translate(870.7 1194.5) scale(0.94 1)" class="pv">P= 0.0117</text>
<text transform="translate(989 1155.1) scale(0.94 1)" class="pv">P= 3.71 x 10<tspan class="ps" dy="-10">-5</tspan></text>
</g>
<g id="p-CXCL10">
<line x1="1334.5" y1="1141.2" x2="1334.5" y2="1570.8" stroke="#000" stroke-width="3.1"/>
<line x1="1322" y1="1569.2" x2="1761" y2="1569.2" stroke="#000" stroke-width="3.0"/>
<text transform="translate(1318.1 1156.4) scale(0.95 1)" text-anchor="end" class="tk">10<tspan class="sp" dy="-12.3">6</tspan></text>
<text transform="translate(1318.1 1263) scale(0.95 1)" text-anchor="end" class="tk">10<tspan class="sp" dy="-12.3">5</tspan></text>
<text transform="translate(1318.1 1369.7) scale(0.95 1)" text-anchor="end" class="tk">10<tspan class="sp" dy="-12.3">4</tspan></text>
<text transform="translate(1318.1 1476.3) scale(0.95 1)" text-anchor="end" class="tk">10<tspan class="sp" dy="-12.3">3</tspan></text>
<text transform="translate(1318.1 1582.9) scale(0.95 1)" text-anchor="end" class="tk">10<tspan class="sp" dy="-12.3">2</tspan></text>
<path d="M1322 1142.7H1334.5M1327.5 1217.2H1334.5M1327.5 1198.5H1334.5M1327.5 1185.1H1334.5M1327.5 1174.8H1334.5M1327.5 1166.4H1334.5M1327.5 1159.2H1334.5M1327.5 1153H1334.5M1327.5 1147.6H1334.5M1322 1249.3H1334.5M1327.5 1323.9H1334.5M1327.5 1305.1H1334.5M1327.5 1291.8H1334.5M1327.5 1281.4H1334.5M1327.5 1273H1334.5M1327.5 1265.8H1334.5M1327.5 1259.7H1334.5M1327.5 1254.2H1334.5M1322 1356H1334.5M1327.5 1430.5H1334.5M1327.5 1411.7H1334.5M1327.5 1398.4H1334.5M1327.5 1388H1334.5M1327.5 1379.6H1334.5M1327.5 1372.5H1334.5M1327.5 1366.3H1334.5M1327.5 1360.8H1334.5M1322 1462.6H1334.5M1327.5 1537.1H1334.5M1327.5 1518.3H1334.5M1327.5 1505H1334.5M1327.5 1494.7H1334.5M1327.5 1486.2H1334.5M1327.5 1479.1H1334.5M1327.5 1472.9H1334.5M1327.5 1467.5H1334.5" stroke="#000" stroke-width="3.1" fill="none"/>
<path d="M1387.5 1569.2V1581.7M1467.5 1569.2V1581.7M1547.5 1569.2V1581.7M1627.5 1569.2V1581.7M1707.5 1569.2V1581.7" stroke="#000" stroke-width="3.1" fill="none"/>
<text transform="translate(1249.7 1351) rotate(-90) scale(0.965 1)" text-anchor="middle" class="yl">CXCL10</text>
<path d="M1382.1 1517.2H1393.5M1387.8 1511.5V1522.9M1383.7 1513.1L1391.9 1521.3M1383.7 1521.3L1391.9 1513.1" stroke="#454545" stroke-width="1.1" fill="none"/>
<path d="M1360.8 1533.6H1372.2M1366.5 1527.9V1539.3M1362.4 1529.5L1370.6 1537.7M1362.4 1537.7L1370.6 1529.5" stroke="#454545" stroke-width="1.1" fill="none"/>
<path d="M1382.1 1544.3H1393.5M1387.8 1538.6V1550M1383.7 1540.2L1391.9 1548.4M1383.7 1548.4L1391.9 1540.2" stroke="#454545" stroke-width="1.1" fill="none"/>
<path d="M1402.8 1543.9H1414.2M1408.5 1538.2V1549.6M1404.4 1539.8L1412.6 1548M1404.4 1548L1412.6 1539.8" stroke="#454545" stroke-width="1.1" fill="none"/>
<path d="M1382.1 1556.4H1393.5M1387.8 1550.7V1562.1M1383.7 1552.3L1391.9 1560.5M1383.7 1560.5L1391.9 1552.3" stroke="#454545" stroke-width="1.1" fill="none"/>
<line x1="1387.8" y1="1521.5" x2="1387.8" y2="1557.1" stroke="#454545" stroke-width="3.0"/>
<line x1="1373.6" y1="1521.5" x2="1402.1" y2="1521.5" stroke="#454545" stroke-width="3.0" stroke-linecap="round"/>
<line x1="1373.6" y1="1557.1" x2="1402.1" y2="1557.1" stroke="#454545" stroke-width="3.0" stroke-linecap="round"/>
<line x1="1354.4" y1="1538.9" x2="1420.6" y2="1538.9" stroke="#000" stroke-width="3.0"/>
<circle cx="1460.9" cy="1218.3" r="5.8"/>
<circle cx="1446.7" cy="1226.7" r="5.8"/>
<circle cx="1446.7" cy="1238.2" r="5.8"/>
<circle cx="1460.9" cy="1235.6" r="5.8"/>
<circle cx="1488.7" cy="1243.1" r="5.8"/>
<circle cx="1474.7" cy="1250.4" r="5.8"/>
<circle cx="1446.7" cy="1254" r="5.8"/>
<circle cx="1460.9" cy="1259.3" r="5.8"/>
<circle cx="1488.7" cy="1260.3" r="5.8"/>
<circle cx="1474.7" cy="1268.2" r="5.8"/>
<circle cx="1446.7" cy="1270.2" r="5.8"/>
<line x1="1468" y1="1236.2" x2="1468" y2="1259.3" stroke="#000" stroke-width="3.0"/>
<line x1="1453.6" y1="1236.2" x2="1482.2" y2="1236.2" stroke="#000" stroke-width="3.0"/>
<line x1="1453.6" y1="1259.3" x2="1482.2" y2="1259.3" stroke="#000" stroke-width="3.0"/>
<line x1="1441.1" y1="1247.1" x2="1494" y2="1247.1" stroke="#000" stroke-width="3.0"/>
<polygon points="1533.5,1245.2 1539.3,1256.5 1527.7,1256.5" fill="#ff2600"/>
<polygon points="1561.8,1246.6 1567.6,1257.9 1556,1257.9" fill="#ff2600"/>
<polygon points="1526.6,1256.9 1532.4,1268.2 1520.8,1268.2" fill="#ff2600"/>
<polygon points="1533.5,1262.4 1539.3,1273.7 1527.7,1273.7" fill="#ff2600"/>
<polygon points="1561.8,1260.4 1567.6,1271.7 1556,1271.7" fill="#ff2600"/>
<polygon points="1547.4,1266.4 1553.2,1277.7 1541.6,1277.7" fill="#ff2600"/>
<polygon points="1569.1,1266.8 1574.9,1278.1 1563.3,1278.1" fill="#ff2600"/>
<polygon points="1533.5,1275.2 1539.3,1286.5 1527.7,1286.5" fill="#ff2600"/>
<polygon points="1561.8,1278.8 1567.6,1290.1 1556,1290.1" fill="#ff2600"/>
<polygon points="1547.4,1269.3 1553.2,1280.6 1541.6,1280.6" fill="#ff2600"/>
<line x1="1547.7" y1="1260.9" x2="1547.7" y2="1275.7" stroke="#000" stroke-width="3.0"/>
<line x1="1533.5" y1="1260.9" x2="1561.8" y2="1260.9" stroke="#000" stroke-width="3.0"/>
<line x1="1533.5" y1="1275.7" x2="1561.8" y2="1275.7" stroke="#000" stroke-width="3.0"/>
<line x1="1521.1" y1="1268.2" x2="1574" y2="1268.2" stroke="#000" stroke-width="3.0"/>
<circle cx="1627.3" cy="1297.4" r="5.4" fill="none" stroke="#000" stroke-width="3.3"/>
<circle cx="1606.2" cy="1335.7" r="5.4" fill="none" stroke="#000" stroke-width="3.3"/>
<circle cx="1620" cy="1341.7" r="5.4" fill="none" stroke="#000" stroke-width="3.3"/>
<circle cx="1634.6" cy="1341.7" r="5.4" fill="none" stroke="#000" stroke-width="3.3"/>
<circle cx="1606.2" cy="1365.9" r="5.4" fill="none" stroke="#000" stroke-width="3.3"/>
<circle cx="1649" cy="1365" r="5.4" fill="none" stroke="#000" stroke-width="3.3"/>
<circle cx="1634.6" cy="1368.3" r="5.4" fill="none" stroke="#000" stroke-width="3.3"/>
<circle cx="1620" cy="1373.3" r="5.4" fill="none" stroke="#000" stroke-width="3.3"/>
<circle cx="1634.6" cy="1427.5" r="5.4" fill="none" stroke="#000" stroke-width="3.3"/>
<circle cx="1620" cy="1439.6" r="5.4" fill="none" stroke="#000" stroke-width="3.3"/>
<circle cx="1634.6" cy="1441" r="5.4" fill="none" stroke="#000" stroke-width="3.3"/>
<circle cx="1620" cy="1450.8" r="5.4" fill="none" stroke="#000" stroke-width="3.3"/>
<line x1="1627.3" y1="1347.8" x2="1627.3" y2="1410" stroke="#000" stroke-width="3.0"/>
<line x1="1613.1" y1="1347.8" x2="1641.7" y2="1347.8" stroke="#000" stroke-width="3.0"/>
<line x1="1613.1" y1="1410" x2="1641.7" y2="1410" stroke="#000" stroke-width="3.0"/>
<line x1="1600.7" y1="1378.8" x2="1654" y2="1378.8" stroke="#000" stroke-width="3.0"/>
<polygon points="1690.9,1425.9 1696.2,1435.8 1685.6,1435.8" fill="none" stroke="#ff2600" stroke-width="2.9" stroke-linejoin="round"/>
<polygon points="1712.2,1425.9 1717.5,1435.8 1706.9,1435.8" fill="none" stroke="#ff2600" stroke-width="2.9" stroke-linejoin="round"/>
<polygon points="1685.6,1430.4 1690.9,1440.3 1680.3,1440.3" fill="none" stroke="#ff2600" stroke-width="2.9" stroke-linejoin="round"/>
<polygon points="1698,1430.4 1703.3,1440.3 1692.7,1440.3" fill="none" stroke="#ff2600" stroke-width="2.9" stroke-linejoin="round"/>
<polygon points="1724.1,1430.4 1729.4,1440.3 1718.8,1440.3" fill="none" stroke="#ff2600" stroke-width="2.9" stroke-linejoin="round"/>
<polygon points="1690.9,1440.3 1696.2,1450.2 1685.6,1450.2" fill="none" stroke="#ff2600" stroke-width="2.9" stroke-linejoin="round"/>
<polygon points="1712.2,1440.3 1717.5,1450.2 1706.9,1450.2" fill="none" stroke="#ff2600" stroke-width="2.9" stroke-linejoin="round"/>
<polygon points="1728,1436.4 1733.3,1446.3 1722.7,1446.3" fill="none" stroke="#ff2600" stroke-width="2.9" stroke-linejoin="round"/>
<polygon points="1702.3,1450.2 1707.6,1460.1 1697,1460.1" fill="none" stroke="#ff2600" stroke-width="2.9" stroke-linejoin="round"/>
<polygon points="1705.3,1436.4 1710.6,1446.3 1700,1446.3" fill="none" stroke="#ff2600" stroke-width="2.9" stroke-linejoin="round"/>
<polygon points="1719.1,1435.4 1724.4,1445.3 1713.8,1445.3" fill="none" stroke="#ff2600" stroke-width="2.9" stroke-linejoin="round"/>
<line x1="1707.3" y1="1435.4" x2="1707.3" y2="1443.3" stroke="#000" stroke-width="3.0"/>
<line x1="1693.1" y1="1435.4" x2="1721.7" y2="1435.4" stroke="#000" stroke-width="3.0"/>
<line x1="1693.1" y1="1443.3" x2="1721.7" y2="1443.3" stroke="#000" stroke-width="3.0"/>
<line x1="1680.6" y1="1439.4" x2="1733.9" y2="1439.4" stroke="#000" stroke-width="3.0"/>
<path d="M1467.4 1201.7V1187.3H1547.4V1201.7" stroke="#000" stroke-width="3" fill="none" stroke-linecap="round" stroke-linejoin="miter"/>
<path d="M1627.7 1279.7V1265.6H1706.7V1279.7" stroke="#000" stroke-width="3" fill="none" stroke-linecap="round" stroke-linejoin="miter"/>
<text transform="translate(1402.4 1176.9) scale(0.94 1)" class="pv">P= 2.45 x 10<tspan class="ps" dy="-10">-3</tspan></text>
<text transform="translate(1582.4 1254.9) scale(0.94 1)" class="pv">P= 3.39 x 10<tspan class="ps" dy="-10">-4</tspan></text>
</g>
<g id="p-CCL2">
<line x1="190.8" y1="1693.5" x2="190.8" y2="2123.2" stroke="#000" stroke-width="3.1"/>
<line x1="178.3" y1="2121.7" x2="617.5" y2="2121.7" stroke="#000" stroke-width="3.0"/>
<text transform="translate(174.4 1708.7) scale(0.95 1)" text-anchor="end" class="tk">10<tspan class="sp" dy="-12.3">6</tspan></text>
<text transform="translate(174.4 1779.8) scale(0.95 1)" text-anchor="end" class="tk">10<tspan class="sp" dy="-12.3">5</tspan></text>
<text transform="translate(174.4 1850.9) scale(0.95 1)" text-anchor="end" class="tk">10<tspan class="sp" dy="-12.3">4</tspan></text>
<text transform="translate(174.4 1922) scale(0.95 1)" text-anchor="end" class="tk">10<tspan class="sp" dy="-12.3">3</tspan></text>
<text transform="translate(174.4 1993.2) scale(0.95 1)" text-anchor="end" class="tk">10<tspan class="sp" dy="-12.3">2</tspan></text>
<text transform="translate(174.4 2064.3) scale(0.95 1)" text-anchor="end" class="tk">10<tspan class="sp" dy="-12.3">1</tspan></text>
<text transform="translate(174.4 2135.4) scale(0.95 1)" text-anchor="end" class="tk">10<tspan class="sp" dy="-12.3">0</tspan></text>
<path d="M178.3 1695H190.8M183.8 1744.7H190.8M183.8 1732.2H190.8M183.8 1723.3H190.8M183.8 1716.4H190.8M183.8 1710.8H190.8M183.8 1706H190.8M183.8 1701.9H190.8M183.8 1698.3H190.8M178.3 1766.1H190.8M183.8 1815.8H190.8M183.8 1803.3H190.8M183.8 1794.4H190.8M183.8 1787.5H190.8M183.8 1781.9H190.8M183.8 1777.1H190.8M183.8 1773H190.8M183.8 1769.4H190.8M178.3 1837.2H190.8M183.8 1886.9H190.8M183.8 1874.4H190.8M183.8 1865.5H190.8M183.8 1858.6H190.8M183.8 1853H190.8M183.8 1848.2H190.8M183.8 1844.1H190.8M183.8 1840.5H190.8M178.3 1908.3H190.8M183.8 1958.1H190.8M183.8 1945.5H190.8M183.8 1936.7H190.8M183.8 1929.8H190.8M183.8 1924.1H190.8M183.8 1919.4H190.8M183.8 1915.2H190.8M183.8 1911.6H190.8M178.3 1979.5H190.8M183.8 2029.2H190.8M183.8 2016.7H190.8M183.8 2007.8H190.8M183.8 2000.9H190.8M183.8 1995.2H190.8M183.8 1990.5H190.8M183.8 1986.4H190.8M183.8 1982.7H190.8M178.3 2050.6H190.8M183.8 2100.3H190.8M183.8 2087.8H190.8M183.8 2078.9H190.8M183.8 2072H190.8M183.8 2066.4H190.8M183.8 2061.6H190.8M183.8 2057.5H190.8M183.8 2053.8H190.8" stroke="#000" stroke-width="3.1" fill="none"/>
<path d="M244 2121.7V2134.2M324 2121.7V2134.2M404 2121.7V2134.2M484 2121.7V2134.2M564 2121.7V2134.2" stroke="#000" stroke-width="3.1" fill="none"/>
<text transform="translate(107.8 1903.6) rotate(-90) scale(0.965 1)" text-anchor="middle" class="yl">CCL2</text>
<path d="M238.5 1969.7H249.9M244.2 1964V1975.4M240.1 1965.6L248.3 1973.8M240.1 1973.8L248.3 1965.6" stroke="#454545" stroke-width="1.1" fill="none"/>
<path d="M238.5 1988.7H249.9M244.2 1983V1994.4M240.1 1984.6L248.3 1992.8M240.1 1992.8L248.3 1984.6" stroke="#454545" stroke-width="1.1" fill="none"/>
<path d="M238.5 2031.4H249.9M244.2 2025.7V2037.1M240.1 2027.3L248.3 2035.5M240.1 2035.5L248.3 2027.3" stroke="#454545" stroke-width="1.1" fill="none"/>
<path d="M226.6 2063.8H238M232.3 2058.1V2069.5M228.2 2059.7L236.4 2067.9M228.2 2067.9L236.4 2059.7" stroke="#454545" stroke-width="1.1" fill="none"/>
<path d="M250.1 2063.8H261.5M255.8 2058.1V2069.5M251.7 2059.7L259.9 2067.9M251.7 2067.9L259.9 2059.7" stroke="#454545" stroke-width="1.1" fill="none"/>
<line x1="244.2" y1="1970.5" x2="244.2" y2="2076.4" stroke="#454545" stroke-width="3.0"/>
<line x1="229.7" y1="1970.5" x2="258.4" y2="1970.5" stroke="#454545" stroke-width="3.0" stroke-linecap="round"/>
<line x1="229.7" y1="2076.4" x2="258.4" y2="2076.4" stroke="#454545" stroke-width="3.0" stroke-linecap="round"/>
<line x1="210.8" y1="2023.3" x2="277.3" y2="2023.3" stroke="#000" stroke-width="3.0"/>
<circle cx="303.2" cy="1777.5" r="5.8"/>
<circle cx="310.1" cy="1776.7" r="5.8"/>
<circle cx="324.6" cy="1775.6" r="5.8"/>
<circle cx="331.5" cy="1776.7" r="5.8"/>
<circle cx="338.5" cy="1778" r="5.8"/>
<circle cx="345" cy="1780.8" r="5.8"/>
<circle cx="317.2" cy="1781.7" r="5.8"/>
<circle cx="324.6" cy="1783.6" r="5.8"/>
<circle cx="309.7" cy="1788.2" r="5.8"/>
<circle cx="324.6" cy="1788.2" r="5.8"/>
<circle cx="338" cy="1793.4" r="5.8"/>
<line x1="324" y1="1778.9" x2="324" y2="1784.9" stroke="#000" stroke-width="3.0"/>
<line x1="309.7" y1="1778.9" x2="338.5" y2="1778.9" stroke="#000" stroke-width="3.0"/>
<line x1="309.7" y1="1784.9" x2="338.5" y2="1784.9" stroke="#000" stroke-width="3.0"/>
<line x1="297.7" y1="1781.7" x2="350.6" y2="1781.7" stroke="#000" stroke-width="3.0"/>
<polygon points="393,1783.4 398.8,1794.7 387.2,1794.7" fill="#ff2600"/>
<polygon points="399.9,1782.4 405.7,1793.7 394.1,1793.7" fill="#ff2600"/>
<polygon points="406.9,1784.3 412.7,1795.6 401.1,1795.6" fill="#ff2600"/>
<polygon points="413.8,1784.3 419.6,1795.6 408,1795.6" fill="#ff2600"/>
<polygon points="389.6,1796.4 395.4,1807.7 383.8,1807.7" fill="#ff2600"/>
<polygon points="418.5,1797.3 424.3,1808.6 412.7,1808.6" fill="#ff2600"/>
<polygon points="382.8,1806.6 388.6,1817.9 377,1817.9" fill="#ff2600"/>
<polygon points="397.1,1804.4 402.9,1815.7 391.3,1815.7" fill="#ff2600"/>
<polygon points="411,1808.8 416.8,1820.1 405.2,1820.1" fill="#ff2600"/>
<polygon points="425,1807.5 430.8,1818.8 419.2,1818.8" fill="#ff2600"/>
<polygon points="403.6,1801 409.4,1812.3 397.8,1812.3" fill="#ff2600"/>
<line x1="404" y1="1794.7" x2="404" y2="1808.3" stroke="#000" stroke-width="3.0"/>
<line x1="389.6" y1="1794.7" x2="418.5" y2="1794.7" stroke="#000" stroke-width="3.0"/>
<line x1="389.6" y1="1808.3" x2="418.5" y2="1808.3" stroke="#000" stroke-width="3.0"/>
<line x1="377.2" y1="1801.6" x2="430.5" y2="1801.6" stroke="#000" stroke-width="3.0"/>
<circle cx="483.9" cy="1727.3" r="5.4" fill="none" stroke="#000" stroke-width="3.3"/>
<circle cx="483.9" cy="1769.1" r="5.4" fill="none" stroke="#000" stroke-width="3.3"/>
<circle cx="504.9" cy="1783.2" r="5.4" fill="none" stroke="#000" stroke-width="3.3"/>
<circle cx="462.7" cy="1792.9" r="5.4" fill="none" stroke="#000" stroke-width="3.3"/>
<circle cx="504.9" cy="1797.9" r="5.4" fill="none" stroke="#000" stroke-width="3.3"/>
<circle cx="462.7" cy="1822.6" r="5.4" fill="none" stroke="#000" stroke-width="3.3"/>
<circle cx="483.9" cy="1822.6" r="5.4" fill="none" stroke="#000" stroke-width="3.3"/>
<circle cx="504.9" cy="1821.7" r="5.4" fill="none" stroke="#000" stroke-width="3.3"/>
<circle cx="483.9" cy="1878.4" r="5.4" fill="none" stroke="#000" stroke-width="3.3"/>
<circle cx="504.9" cy="1886.4" r="5.4" fill="none" stroke="#000" stroke-width="3.3"/>
<circle cx="483.9" cy="1895.6" r="5.4" fill="none" stroke="#000" stroke-width="3.3"/>
<circle cx="483.9" cy="1969.4" r="5.4" fill="none" stroke="#000" stroke-width="3.3"/>
<line x1="484.4" y1="1788.2" x2="484.4" y2="1872.2" stroke="#000" stroke-width="3.0"/>
<line x1="469.6" y1="1788.2" x2="497.8" y2="1788.2" stroke="#000" stroke-width="3.0"/>
<line x1="469.6" y1="1872.2" x2="497.8" y2="1872.2" stroke="#000" stroke-width="3.0"/>
<line x1="456.9" y1="1830" x2="510.4" y2="1830" stroke="#000" stroke-width="3.0"/>
<polygon points="556.9,1897.8 562.2,1907.7 551.6,1907.7" fill="none" stroke="#ff2600" stroke-width="2.9" stroke-linejoin="round"/>
<polygon points="584.8,1900.6 590.1,1910.5 579.5,1910.5" fill="none" stroke="#ff2600" stroke-width="2.9" stroke-linejoin="round"/>
<polygon points="542.6,1906.2 547.9,1916.1 537.3,1916.1" fill="none" stroke="#ff2600" stroke-width="2.9" stroke-linejoin="round"/>
<polygon points="570.8,1906.2 576.1,1916.1 565.5,1916.1" fill="none" stroke="#ff2600" stroke-width="2.9" stroke-linejoin="round"/>
<polygon points="556.9,1912.7 562.2,1922.6 551.6,1922.6" fill="none" stroke="#ff2600" stroke-width="2.9" stroke-linejoin="round"/>
<polygon points="584.8,1914.6 590.1,1924.5 579.5,1924.5" fill="none" stroke="#ff2600" stroke-width="2.9" stroke-linejoin="round"/>
<polygon points="542.6,1916.4 547.9,1926.3 537.3,1926.3" fill="none" stroke="#ff2600" stroke-width="2.9" stroke-linejoin="round"/>
<polygon points="556.9,1924.8 562.2,1934.7 551.6,1934.7" fill="none" stroke="#ff2600" stroke-width="2.9" stroke-linejoin="round"/>
<polygon points="570.8,1926.1 576.1,1936 565.5,1936" fill="none" stroke="#ff2600" stroke-width="2.9" stroke-linejoin="round"/>
<polygon points="556.9,1938.2 562.2,1948.1 551.6,1948.1" fill="none" stroke="#ff2600" stroke-width="2.9" stroke-linejoin="round"/>
<polygon points="570.8,1949 576.1,1958.9 565.5,1958.9" fill="none" stroke="#ff2600" stroke-width="2.9" stroke-linejoin="round"/>
<polygon points="556.9,1953.6 562.2,1963.5 551.6,1963.5" fill="none" stroke="#ff2600" stroke-width="2.9" stroke-linejoin="round"/>
<line x1="563.8" y1="1913.7" x2="563.8" y2="1937.3" stroke="#000" stroke-width="3.0"/>
<line x1="549.5" y1="1913.7" x2="578.3" y2="1913.7" stroke="#000" stroke-width="3.0"/>
<line x1="549.5" y1="1937.3" x2="578.3" y2="1937.3" stroke="#000" stroke-width="3.0"/>
<line x1="537" y1="1925.7" x2="590" y2="1925.7" stroke="#000" stroke-width="3.0"/>
<path d="M322.7 1760V1745.5H401.7V1760" stroke="#000" stroke-width="3" fill="none" stroke-linecap="round" stroke-linejoin="miter"/>
<path d="M483.9 1712.6V1698.1H563.4V1712.6" stroke="#000" stroke-width="3" fill="none" stroke-linecap="round" stroke-linejoin="miter"/>
<text transform="translate(254.3 1736.7) scale(0.94 1)" class="pv">P= 2.68 x 10<tspan class="ps" dy="-10">-5</tspan></text>
<text transform="translate(409.1 1688.4) scale(0.94 1)" class="pv">P= 8.57 x 10<tspan class="ps" dy="-10">-5</tspan></text>
<text transform="translate(250.5 2159.7) rotate(-45)" text-anchor="end" class="xl">S</text>
<text transform="translate(330.5 2159.7) rotate(-45)" text-anchor="end" class="xl">C 4h</text>
<text transform="translate(410.5 2159.7) rotate(-45)" text-anchor="end" class="xl">M 4h</text>
<text transform="translate(490.5 2159.7) rotate(-45)" text-anchor="end" class="xl">C 24h</text>
<text transform="translate(570.5 2159.7) rotate(-45)" text-anchor="end" class="xl">M 24h</text>
</g>
<g id="p-CCL3">
<line x1="763.6" y1="1690.8" x2="763.6" y2="2120.7" stroke="#000" stroke-width="3.1"/>
<line x1="751.1" y1="2119.1" x2="1189.5" y2="2119.1" stroke="#000" stroke-width="3.0"/>
<text transform="translate(747.2 1706) scale(0.95 1)" text-anchor="end" class="tk">10<tspan class="sp" dy="-12.3">4</tspan></text>
<text transform="translate(747.2 1812.7) scale(0.95 1)" text-anchor="end" class="tk">10<tspan class="sp" dy="-12.3">3</tspan></text>
<text transform="translate(747.2 1919.4) scale(0.95 1)" text-anchor="end" class="tk">10<tspan class="sp" dy="-12.3">2</tspan></text>
<text transform="translate(747.2 2026.1) scale(0.95 1)" text-anchor="end" class="tk">10<tspan class="sp" dy="-12.3">1</tspan></text>
<text transform="translate(747.2 2132.8) scale(0.95 1)" text-anchor="end" class="tk">10<tspan class="sp" dy="-12.3">0</tspan></text>
<path d="M751.1 1692.3H763.6M756.6 1766.9H763.6M756.6 1748.1H763.6M756.6 1734.8H763.6M756.6 1724.4H763.6M756.6 1716H763.6M756.6 1708.8H763.6M756.6 1702.6H763.6M756.6 1697.2H763.6M751.1 1799H763.6M756.6 1873.6H763.6M756.6 1854.8H763.6M756.6 1841.5H763.6M756.6 1831.1H763.6M756.6 1822.7H763.6M756.6 1815.5H763.6M756.6 1809.3H763.6M756.6 1803.9H763.6M751.1 1905.7H763.6M756.6 1980.3H763.6M756.6 1961.5H763.6M756.6 1948.2H763.6M756.6 1937.8H763.6M756.6 1929.4H763.6M756.6 1922.2H763.6M756.6 1916H763.6M756.6 1910.6H763.6M751.1 2012.4H763.6M756.6 2087H763.6M756.6 2068.2H763.6M756.6 2054.9H763.6M756.6 2044.5H763.6M756.6 2036.1H763.6M756.6 2028.9H763.6M756.6 2022.7H763.6M756.6 2017.3H763.6" stroke="#000" stroke-width="3.1" fill="none"/>
<path d="M815.5 2119.1V2131.6M895.5 2119.1V2131.6M975.5 2119.1V2131.6M1055.5 2119.1V2131.6M1135.5 2119.1V2131.6" stroke="#000" stroke-width="3.1" fill="none"/>
<text transform="translate(678.4 1900.5) rotate(-90) scale(0.965 1)" text-anchor="middle" class="yl">CCL3</text>
<path d="M809.6 1897.8H821M815.3 1892.1V1903.5M811.2 1893.7L819.4 1901.9M811.2 1901.9L819.4 1893.7" stroke="#454545" stroke-width="1.1" fill="none"/>
<path d="M809.6 1919.4H821M815.3 1913.7V1925.1M811.2 1915.3L819.4 1923.5M811.2 1923.5L819.4 1915.3" stroke="#454545" stroke-width="1.1" fill="none"/>
<path d="M809.6 1976.9H821M815.3 1971.2V1982.6M811.2 1972.8L819.4 1981M811.2 1981L819.4 1972.8" stroke="#454545" stroke-width="1.1" fill="none"/>
<path d="M798.1 2025H809.5M803.8 2019.3V2030.7M799.7 2020.9L807.9 2029.1M799.7 2029.1L807.9 2020.9" stroke="#454545" stroke-width="1.1" fill="none"/>
<path d="M821.5 2025H832.9M827.2 2019.3V2030.7M823.1 2020.9L831.3 2029.1M823.1 2029.1L831.3 2020.9" stroke="#454545" stroke-width="1.1" fill="none"/>
<line x1="815.3" y1="1895.4" x2="815.3" y2="2041.4" stroke="#454545" stroke-width="3.0"/>
<line x1="801" y1="1895.4" x2="830" y2="1895.4" stroke="#454545" stroke-width="3.0" stroke-linecap="round"/>
<line x1="801" y1="2041.4" x2="830" y2="2041.4" stroke="#454545" stroke-width="3.0" stroke-linecap="round"/>
<line x1="782.9" y1="1968.6" x2="848.4" y2="1968.6" stroke="#000" stroke-width="3.0"/>
<circle cx="895.3" cy="1746.9" r="5.8"/>
<circle cx="888.4" cy="1770.6" r="5.8"/>
<circle cx="916.6" cy="1772.5" r="5.8"/>
<circle cx="902.8" cy="1778.5" r="5.8"/>
<circle cx="874.6" cy="1784" r="5.8"/>
<circle cx="888.4" cy="1783.4" r="5.8"/>
<circle cx="902.8" cy="1791.3" r="5.8"/>
<circle cx="916.6" cy="1794.3" r="5.8"/>
<circle cx="888.4" cy="1796.8" r="5.8"/>
<circle cx="902.8" cy="1805.1" r="5.8"/>
<circle cx="895.3" cy="1818.9" r="5.8"/>
<line x1="895.9" y1="1772.5" x2="895.9" y2="1798.8" stroke="#000" stroke-width="3.0"/>
<line x1="881.5" y1="1772.5" x2="909.1" y2="1772.5" stroke="#000" stroke-width="3.0"/>
<line x1="881.5" y1="1798.8" x2="909.1" y2="1798.8" stroke="#000" stroke-width="3.0"/>
<line x1="869.2" y1="1785.4" x2="921.9" y2="1785.4" stroke="#000" stroke-width="3.0"/>
<polygon points="975.2,1766.7 981,1778 969.4,1778" fill="#ff2600"/>
<polygon points="959.5,1796.4 965.3,1807.7 953.7,1807.7" fill="#ff2600"/>
<polygon points="954.5,1802.3 960.3,1813.6 948.7,1813.6" fill="#ff2600"/>
<polygon points="968.3,1805.2 974.1,1816.5 962.5,1816.5" fill="#ff2600"/>
<polygon points="982.2,1805.2 988,1816.5 976.4,1816.5" fill="#ff2600"/>
<polygon points="990.1,1805.2 995.9,1816.5 984.3,1816.5" fill="#ff2600"/>
<polygon points="997,1805.2 1002.8,1816.5 991.2,1816.5" fill="#ff2600"/>
<polygon points="966.4,1808.2 972.2,1819.5 960.6,1819.5" fill="#ff2600"/>
<polygon points="978.2,1816.1 984,1827.4 972.4,1827.4" fill="#ff2600"/>
<polygon points="971.9,1823 977.7,1834.3 966.1,1834.3" fill="#ff2600"/>
<polygon points="986.1,1807.2 991.9,1818.5 980.3,1818.5" fill="#ff2600"/>
<line x1="975.2" y1="1797.8" x2="975.2" y2="1817.4" stroke="#000" stroke-width="3.0"/>
<line x1="961.4" y1="1797.8" x2="989.5" y2="1797.8" stroke="#000" stroke-width="3.0"/>
<line x1="961.4" y1="1817.4" x2="989.5" y2="1817.4" stroke="#000" stroke-width="3.0"/>
<line x1="948.6" y1="1807.7" x2="1001.9" y2="1807.7" stroke="#000" stroke-width="3.0"/>
<circle cx="1041" cy="1788.3" r="5.4" fill="none" stroke="#000" stroke-width="3.3"/>
<circle cx="1069" cy="1788.3" r="5.4" fill="none" stroke="#000" stroke-width="3.3"/>
<circle cx="1054.8" cy="1793.3" r="5.4" fill="none" stroke="#000" stroke-width="3.3"/>
<circle cx="1034.1" cy="1821.9" r="5.4" fill="none" stroke="#000" stroke-width="3.3"/>
<circle cx="1048.3" cy="1820.9" r="5.4" fill="none" stroke="#000" stroke-width="3.3"/>
<circle cx="1062.1" cy="1830.8" r="5.4" fill="none" stroke="#000" stroke-width="3.3"/>
<circle cx="1048.3" cy="1836.3" r="5.4" fill="none" stroke="#000" stroke-width="3.3"/>
<circle cx="1034.1" cy="1851.9" r="5.4" fill="none" stroke="#000" stroke-width="3.3"/>
<circle cx="1048.3" cy="1859.4" r="5.4" fill="none" stroke="#000" stroke-width="3.3"/>
<circle cx="1062.1" cy="1859" r="5.4" fill="none" stroke="#000" stroke-width="3.3"/>
<circle cx="1076.3" cy="1860.4" r="5.4" fill="none" stroke="#000" stroke-width="3.3"/>
<circle cx="1054.8" cy="1875.8" r="5.4" fill="none" stroke="#000" stroke-width="3.3"/>
<line x1="1055.2" y1="1812.6" x2="1055.2" y2="1851.1" stroke="#000" stroke-width="3.0"/>
<line x1="1041" y1="1812.6" x2="1069" y2="1812.6" stroke="#000" stroke-width="3.0"/>
<line x1="1041" y1="1851.1" x2="1069" y2="1851.1" stroke="#000" stroke-width="3.0"/>
<line x1="1028.6" y1="1832.2" x2="1081.9" y2="1832.2" stroke="#000" stroke-width="3.0"/>
<polygon points="1124.3,1857.8 1129.6,1867.7 1119,1867.7" fill="none" stroke="#ff2600" stroke-width="2.9" stroke-linejoin="round"/>
<polygon points="1145.4,1862.7 1150.7,1872.6 1140.1,1872.6" fill="none" stroke="#ff2600" stroke-width="2.9" stroke-linejoin="round"/>
<polygon points="1113.5,1868.6 1118.8,1878.5 1108.2,1878.5" fill="none" stroke="#ff2600" stroke-width="2.9" stroke-linejoin="round"/>
<polygon points="1135.2,1867.6 1140.5,1877.5 1129.9,1877.5" fill="none" stroke="#ff2600" stroke-width="2.9" stroke-linejoin="round"/>
<polygon points="1124.3,1873.6 1129.6,1883.5 1119,1883.5" fill="none" stroke="#ff2600" stroke-width="2.9" stroke-linejoin="round"/>
<polygon points="1156.9,1872.6 1162.2,1882.5 1151.6,1882.5" fill="none" stroke="#ff2600" stroke-width="2.9" stroke-linejoin="round"/>
<polygon points="1145.4,1877.5 1150.7,1887.4 1140.1,1887.4" fill="none" stroke="#ff2600" stroke-width="2.9" stroke-linejoin="round"/>
<polygon points="1124.3,1891.3 1129.6,1901.2 1119,1901.2" fill="none" stroke="#ff2600" stroke-width="2.9" stroke-linejoin="round"/>
<polygon points="1145.4,1891.3 1150.7,1901.2 1140.1,1901.2" fill="none" stroke="#ff2600" stroke-width="2.9" stroke-linejoin="round"/>
<polygon points="1135.2,1889.4 1140.5,1899.3 1129.9,1899.3" fill="none" stroke="#ff2600" stroke-width="2.9" stroke-linejoin="round"/>
<polygon points="1135.2,1898.2 1140.5,1908.1 1129.9,1908.1" fill="none" stroke="#ff2600" stroke-width="2.9" stroke-linejoin="round"/>
<polygon points="1135.2,1955.5 1140.5,1965.4 1129.9,1965.4" fill="none" stroke="#ff2600" stroke-width="2.9" stroke-linejoin="round"/>
<line x1="1135.2" y1="1872.3" x2="1135.2" y2="1904.8" stroke="#000" stroke-width="3.0"/>
<line x1="1121" y1="1872.3" x2="1149.4" y2="1872.3" stroke="#000" stroke-width="3.0"/>
<line x1="1121" y1="1904.8" x2="1149.4" y2="1904.8" stroke="#000" stroke-width="3.0"/>
<line x1="1108.1" y1="1888.4" x2="1161.8" y2="1888.4" stroke="#000" stroke-width="3.0"/>
<path d="M894.3 1730.3V1716.3H973.7V1730.3" stroke="#000" stroke-width="3" fill="none" stroke-linecap="round" stroke-linejoin="miter"/>
<path d="M1053.2 1768.2V1754.2H1132.6V1768.2" stroke="#000" stroke-width="3" fill="none" stroke-linecap="round" stroke-linejoin="miter"/>
<text transform="translate(825 1708.5) scale(0.94 1)" class="pv">P= 5.72 x 10<tspan class="ps" dy="-10">-3</tspan></text>
<text transform="translate(993.5 1746.4) scale(0.94 1)" class="pv">P= 6.84 x 10<tspan class="ps" dy="-10">-5</tspan></text>
<text transform="translate(822 2157.1) rotate(-45)" text-anchor="end" class="xl">S</text>
<text transform="translate(902 2157.1) rotate(-45)" text-anchor="end" class="xl">C 4h</text>
<text transform="translate(982 2157.1) rotate(-45)" text-anchor="end" class="xl">M 4h</text>
<text transform="translate(1062 2157.1) rotate(-45)" text-anchor="end" class="xl">C 24h</text>
<text transform="translate(1142 2157.1) rotate(-45)" text-anchor="end" class="xl">M 24h</text>
</g>
<g id="p-CCL4">
<line x1="1333.5" y1="1693.7" x2="1333.5" y2="2123.2" stroke="#000" stroke-width="3.1"/>
<line x1="1321" y1="2121.7" x2="1761" y2="2121.7" stroke="#000" stroke-width="3.0"/>
<text transform="translate(1317.1 1708.9) scale(0.95 1)" text-anchor="end" class="tk">10<tspan class="sp" dy="-12.3">5</tspan></text>
<text transform="translate(1317.1 1794.2) scale(0.95 1)" text-anchor="end" class="tk">10<tspan class="sp" dy="-12.3">4</tspan></text>
<text transform="translate(1317.1 1879.5) scale(0.95 1)" text-anchor="end" class="tk">10<tspan class="sp" dy="-12.3">3</tspan></text>
<text transform="translate(1317.1 1964.8) scale(0.95 1)" text-anchor="end" class="tk">10<tspan class="sp" dy="-12.3">2</tspan></text>
<text transform="translate(1317.1 2050.1) scale(0.95 1)" text-anchor="end" class="tk">10<tspan class="sp" dy="-12.3">1</tspan></text>
<text transform="translate(1317.1 2135.4) scale(0.95 1)" text-anchor="end" class="tk">10<tspan class="sp" dy="-12.3">0</tspan></text>
<path d="M1321 1695.2H1333.5M1326.5 1754.8H1333.5M1326.5 1739.8H1333.5M1326.5 1729.1H1333.5M1326.5 1720.9H1333.5M1326.5 1714.1H1333.5M1326.5 1708.4H1333.5M1326.5 1703.5H1333.5M1326.5 1699.1H1333.5M1321 1780.5H1333.5M1326.5 1840.1H1333.5M1326.5 1825.1H1333.5M1326.5 1814.4H1333.5M1326.5 1806.2H1333.5M1326.5 1799.4H1333.5M1326.5 1793.7H1333.5M1326.5 1788.8H1333.5M1326.5 1784.4H1333.5M1321 1865.8H1333.5M1326.5 1925.4H1333.5M1326.5 1910.4H1333.5M1326.5 1899.7H1333.5M1326.5 1891.5H1333.5M1326.5 1884.7H1333.5M1326.5 1879H1333.5M1326.5 1874.1H1333.5M1326.5 1869.7H1333.5M1321 1951.1H1333.5M1326.5 2010.7H1333.5M1326.5 1995.7H1333.5M1326.5 1985H1333.5M1326.5 1976.8H1333.5M1326.5 1970H1333.5M1326.5 1964.3H1333.5M1326.5 1959.4H1333.5M1326.5 1955H1333.5M1321 2036.4H1333.5M1326.5 2096H1333.5M1326.5 2081H1333.5M1326.5 2070.3H1333.5M1326.5 2062.1H1333.5M1326.5 2055.3H1333.5M1326.5 2049.6H1333.5M1326.5 2044.7H1333.5M1326.5 2040.3H1333.5" stroke="#000" stroke-width="3.1" fill="none"/>
<path d="M1386.7 2121.7V2134.2M1466.7 2121.7V2134.2M1546.7 2121.7V2134.2M1626.7 2121.7V2134.2M1706.7 2121.7V2134.2" stroke="#000" stroke-width="3.1" fill="none"/>
<text transform="translate(1249.7 1903.4) rotate(-90) scale(0.965 1)" text-anchor="middle" class="yl">CCL4</text>
<path d="M1381.1 1990.7H1392.5M1386.8 1985V1996.4M1382.7 1986.6L1390.9 1994.8M1382.7 1994.8L1390.9 1986.6" stroke="#454545" stroke-width="1.1" fill="none"/>
<path d="M1359.7 2033.4H1371.1M1365.4 2027.7V2039.1M1361.3 2029.3L1369.5 2037.5M1361.3 2037.5L1369.5 2029.3" stroke="#454545" stroke-width="1.1" fill="none"/>
<path d="M1374 2030.5H1385.4M1379.7 2024.8V2036.2M1375.6 2026.4L1383.8 2034.6M1375.6 2034.6L1383.8 2026.4" stroke="#454545" stroke-width="1.1" fill="none"/>
<path d="M1387.5 2030.5H1398.9M1393.2 2024.8V2036.2M1389.1 2026.4L1397.3 2034.6M1389.1 2034.6L1397.3 2026.4" stroke="#454545" stroke-width="1.1" fill="none"/>
<path d="M1402.4 2031.2H1413.8M1408.1 2025.5V2036.9M1404 2027.1L1412.2 2035.3M1404 2035.3L1412.2 2027.1" stroke="#454545" stroke-width="1.1" fill="none"/>
<line x1="1386.8" y1="2000.3" x2="1386.8" y2="2045.5" stroke="#454545" stroke-width="3.0"/>
<line x1="1372.5" y1="2000.3" x2="1401" y2="2000.3" stroke="#454545" stroke-width="3.0" stroke-linecap="round"/>
<line x1="1372.5" y1="2045.5" x2="1401" y2="2045.5" stroke="#454545" stroke-width="3.0" stroke-linecap="round"/>
<line x1="1353.3" y1="2023.1" x2="1419.9" y2="2023.1" stroke="#000" stroke-width="3.0"/>
<circle cx="1466.8" cy="1721" r="5.8"/>
<circle cx="1488.1" cy="1743.7" r="5.8"/>
<circle cx="1445.7" cy="1755.1" r="5.8"/>
<circle cx="1459.5" cy="1756.5" r="5.8"/>
<circle cx="1473.7" cy="1756.5" r="5.8"/>
<circle cx="1488.1" cy="1757.9" r="5.8"/>
<circle cx="1445.7" cy="1780.8" r="5.8"/>
<circle cx="1459.5" cy="1780.8" r="5.8"/>
<circle cx="1473.7" cy="1780.8" r="5.8"/>
<circle cx="1488.1" cy="1784.1" r="5.8"/>
<circle cx="1466.8" cy="1811.4" r="5.8"/>
<line x1="1466.8" y1="1749.6" x2="1466.8" y2="1782.6" stroke="#000" stroke-width="3.0"/>
<line x1="1452.6" y1="1749.6" x2="1481.2" y2="1749.6" stroke="#000" stroke-width="3.0"/>
<line x1="1452.6" y1="1782.6" x2="1481.2" y2="1782.6" stroke="#000" stroke-width="3.0"/>
<line x1="1439.7" y1="1766.4" x2="1493.1" y2="1766.4" stroke="#000" stroke-width="3.0"/>
<polygon points="1546.4,1723.1 1552.2,1734.4 1540.6,1734.4" fill="#ff2600"/>
<polygon points="1546.4,1751.1 1552.2,1762.4 1540.6,1762.4" fill="#ff2600"/>
<polygon points="1525.6,1766.5 1531.4,1777.8 1519.8,1777.8" fill="#ff2600"/>
<polygon points="1542,1764.5 1547.8,1775.8 1536.2,1775.8" fill="#ff2600"/>
<polygon points="1550.3,1768.5 1556.1,1779.8 1544.5,1779.8" fill="#ff2600"/>
<polygon points="1533.5,1776.4 1539.3,1787.7 1527.7,1787.7" fill="#ff2600"/>
<polygon points="1542,1777.3 1547.8,1788.6 1536.2,1788.6" fill="#ff2600"/>
<polygon points="1559.2,1773.4 1565,1784.7 1553.4,1784.7" fill="#ff2600"/>
<polygon points="1568.1,1776 1573.9,1787.3 1562.3,1787.3" fill="#ff2600"/>
<polygon points="1550.3,1781.3 1556.1,1792.6 1544.5,1792.6" fill="#ff2600"/>
<polygon points="1546.4,1810.5 1552.2,1821.8 1540.6,1821.8" fill="#ff2600"/>
<line x1="1546.4" y1="1760" x2="1546.4" y2="1789.5" stroke="#000" stroke-width="3.0"/>
<line x1="1532.5" y1="1760" x2="1560.6" y2="1760" stroke="#000" stroke-width="3.0"/>
<line x1="1532.5" y1="1789.5" x2="1560.6" y2="1789.5" stroke="#000" stroke-width="3.0"/>
<line x1="1520.1" y1="1774.9" x2="1573.4" y2="1774.9" stroke="#000" stroke-width="3.0"/>
<circle cx="1615.1" cy="1775.2" r="5.4" fill="none" stroke="#000" stroke-width="3.3"/>
<circle cx="1638.2" cy="1780.8" r="5.4" fill="none" stroke="#000" stroke-width="3.3"/>
<circle cx="1615.1" cy="1788.1" r="5.4" fill="none" stroke="#000" stroke-width="3.3"/>
<circle cx="1626.3" cy="1804.9" r="5.4" fill="none" stroke="#000" stroke-width="3.3"/>
<circle cx="1626.3" cy="1817.7" r="5.4" fill="none" stroke="#000" stroke-width="3.3"/>
<circle cx="1615.1" cy="1829.5" r="5.4" fill="none" stroke="#000" stroke-width="3.3"/>
<circle cx="1638.2" cy="1834.1" r="5.4" fill="none" stroke="#000" stroke-width="3.3"/>
<circle cx="1626.3" cy="1850.3" r="5.4" fill="none" stroke="#000" stroke-width="3.3"/>
<circle cx="1626.3" cy="1862.5" r="5.4" fill="none" stroke="#000" stroke-width="3.3"/>
<circle cx="1615.1" cy="1877.5" r="5.4" fill="none" stroke="#000" stroke-width="3.3"/>
<circle cx="1638.2" cy="1881.3" r="5.4" fill="none" stroke="#000" stroke-width="3.3"/>
<circle cx="1626.3" cy="1922.9" r="5.4" fill="none" stroke="#000" stroke-width="3.3"/>
<line x1="1626.3" y1="1806.4" x2="1626.3" y2="1864.1" stroke="#000" stroke-width="3.0"/>
<line x1="1612.5" y1="1806.4" x2="1640.5" y2="1806.4" stroke="#000" stroke-width="3.0"/>
<line x1="1612.5" y1="1864.1" x2="1640.5" y2="1864.1" stroke="#000" stroke-width="3.0"/>
<line x1="1599.7" y1="1835.5" x2="1653" y2="1835.5" stroke="#000" stroke-width="3.0"/>
<polygon points="1710.6,1871.3 1715.9,1881.2 1705.3,1881.2" fill="none" stroke="#ff2600" stroke-width="2.9" stroke-linejoin="round"/>
<polygon points="1685.6,1881.2 1690.9,1891.1 1680.3,1891.1" fill="none" stroke="#ff2600" stroke-width="2.9" stroke-linejoin="round"/>
<polygon points="1719.1,1885.2 1724.4,1895.1 1713.8,1895.1" fill="none" stroke="#ff2600" stroke-width="2.9" stroke-linejoin="round"/>
<polygon points="1685.6,1892.1 1690.9,1902 1680.3,1902" fill="none" stroke="#ff2600" stroke-width="2.9" stroke-linejoin="round"/>
<polygon points="1694.4,1893.1 1699.7,1903 1689.1,1903" fill="none" stroke="#ff2600" stroke-width="2.9" stroke-linejoin="round"/>
<polygon points="1728,1892.1 1733.3,1902 1722.7,1902" fill="none" stroke="#ff2600" stroke-width="2.9" stroke-linejoin="round"/>
<polygon points="1702.3,1898 1707.6,1907.9 1697,1907.9" fill="none" stroke="#ff2600" stroke-width="2.9" stroke-linejoin="round"/>
<polygon points="1710.6,1890.1 1715.9,1900 1705.3,1900" fill="none" stroke="#ff2600" stroke-width="2.9" stroke-linejoin="round"/>
<polygon points="1710.6,1902.9 1715.9,1912.8 1705.3,1912.8" fill="none" stroke="#ff2600" stroke-width="2.9" stroke-linejoin="round"/>
<polygon points="1702.3,1911.8 1707.6,1921.7 1697,1921.7" fill="none" stroke="#ff2600" stroke-width="2.9" stroke-linejoin="round"/>
<polygon points="1710.6,1927 1715.9,1936.9 1705.3,1936.9" fill="none" stroke="#ff2600" stroke-width="2.9" stroke-linejoin="round"/>
<polygon points="1701.4,1931.9 1706.7,1941.8 1696.1,1941.8" fill="none" stroke="#ff2600" stroke-width="2.9" stroke-linejoin="round"/>
<line x1="1706.3" y1="1891.7" x2="1706.3" y2="1913.5" stroke="#000" stroke-width="3.0"/>
<line x1="1692.5" y1="1891.7" x2="1720.5" y2="1891.7" stroke="#000" stroke-width="3.0"/>
<line x1="1692.5" y1="1913.5" x2="1720.5" y2="1913.5" stroke="#000" stroke-width="3.0"/>
<line x1="1679.2" y1="1902.6" x2="1733" y2="1902.6" stroke="#000" stroke-width="3.0"/>
<path d="M1466.4 1706.7V1692.7H1545.8V1706.7" stroke="#000" stroke-width="3" fill="none" stroke-linecap="round" stroke-linejoin="miter"/>
<path d="M1626.3 1756.1V1742.1H1705.3V1756.1" stroke="#000" stroke-width="3" fill="none" stroke-linecap="round" stroke-linejoin="miter"/>
<text transform="translate(1414.8 1682) scale(0.94 1)" class="pv">P= 7.45 x 10<tspan class="ps" dy="-10">-4</tspan></text>
<text transform="translate(1569.5 1731.3) scale(0.94 1)" class="pv">P= 1.66 x 10<tspan class="ps" dy="-10">-4</tspan></text>
<text transform="translate(1393.2 2159.7) rotate(-45)" text-anchor="end" class="xl">S</text>
<text transform="translate(1473.2 2159.7) rotate(-45)" text-anchor="end" class="xl">C 4h</text>
<text transform="translate(1553.2 2159.7) rotate(-45)" text-anchor="end" class="xl">M 4h</text>
<text transform="translate(1633.2 2159.7) rotate(-45)" text-anchor="end" class="xl">C 24h</text>
<text transform="translate(1713.2 2159.7) rotate(-45)" text-anchor="end" class="xl">M 24h</text>
</g>
<text transform="translate(35.3 1060) rotate(-90)" text-anchor="middle" class="pg">pg/ml</text>
</svg>
</body></html>
